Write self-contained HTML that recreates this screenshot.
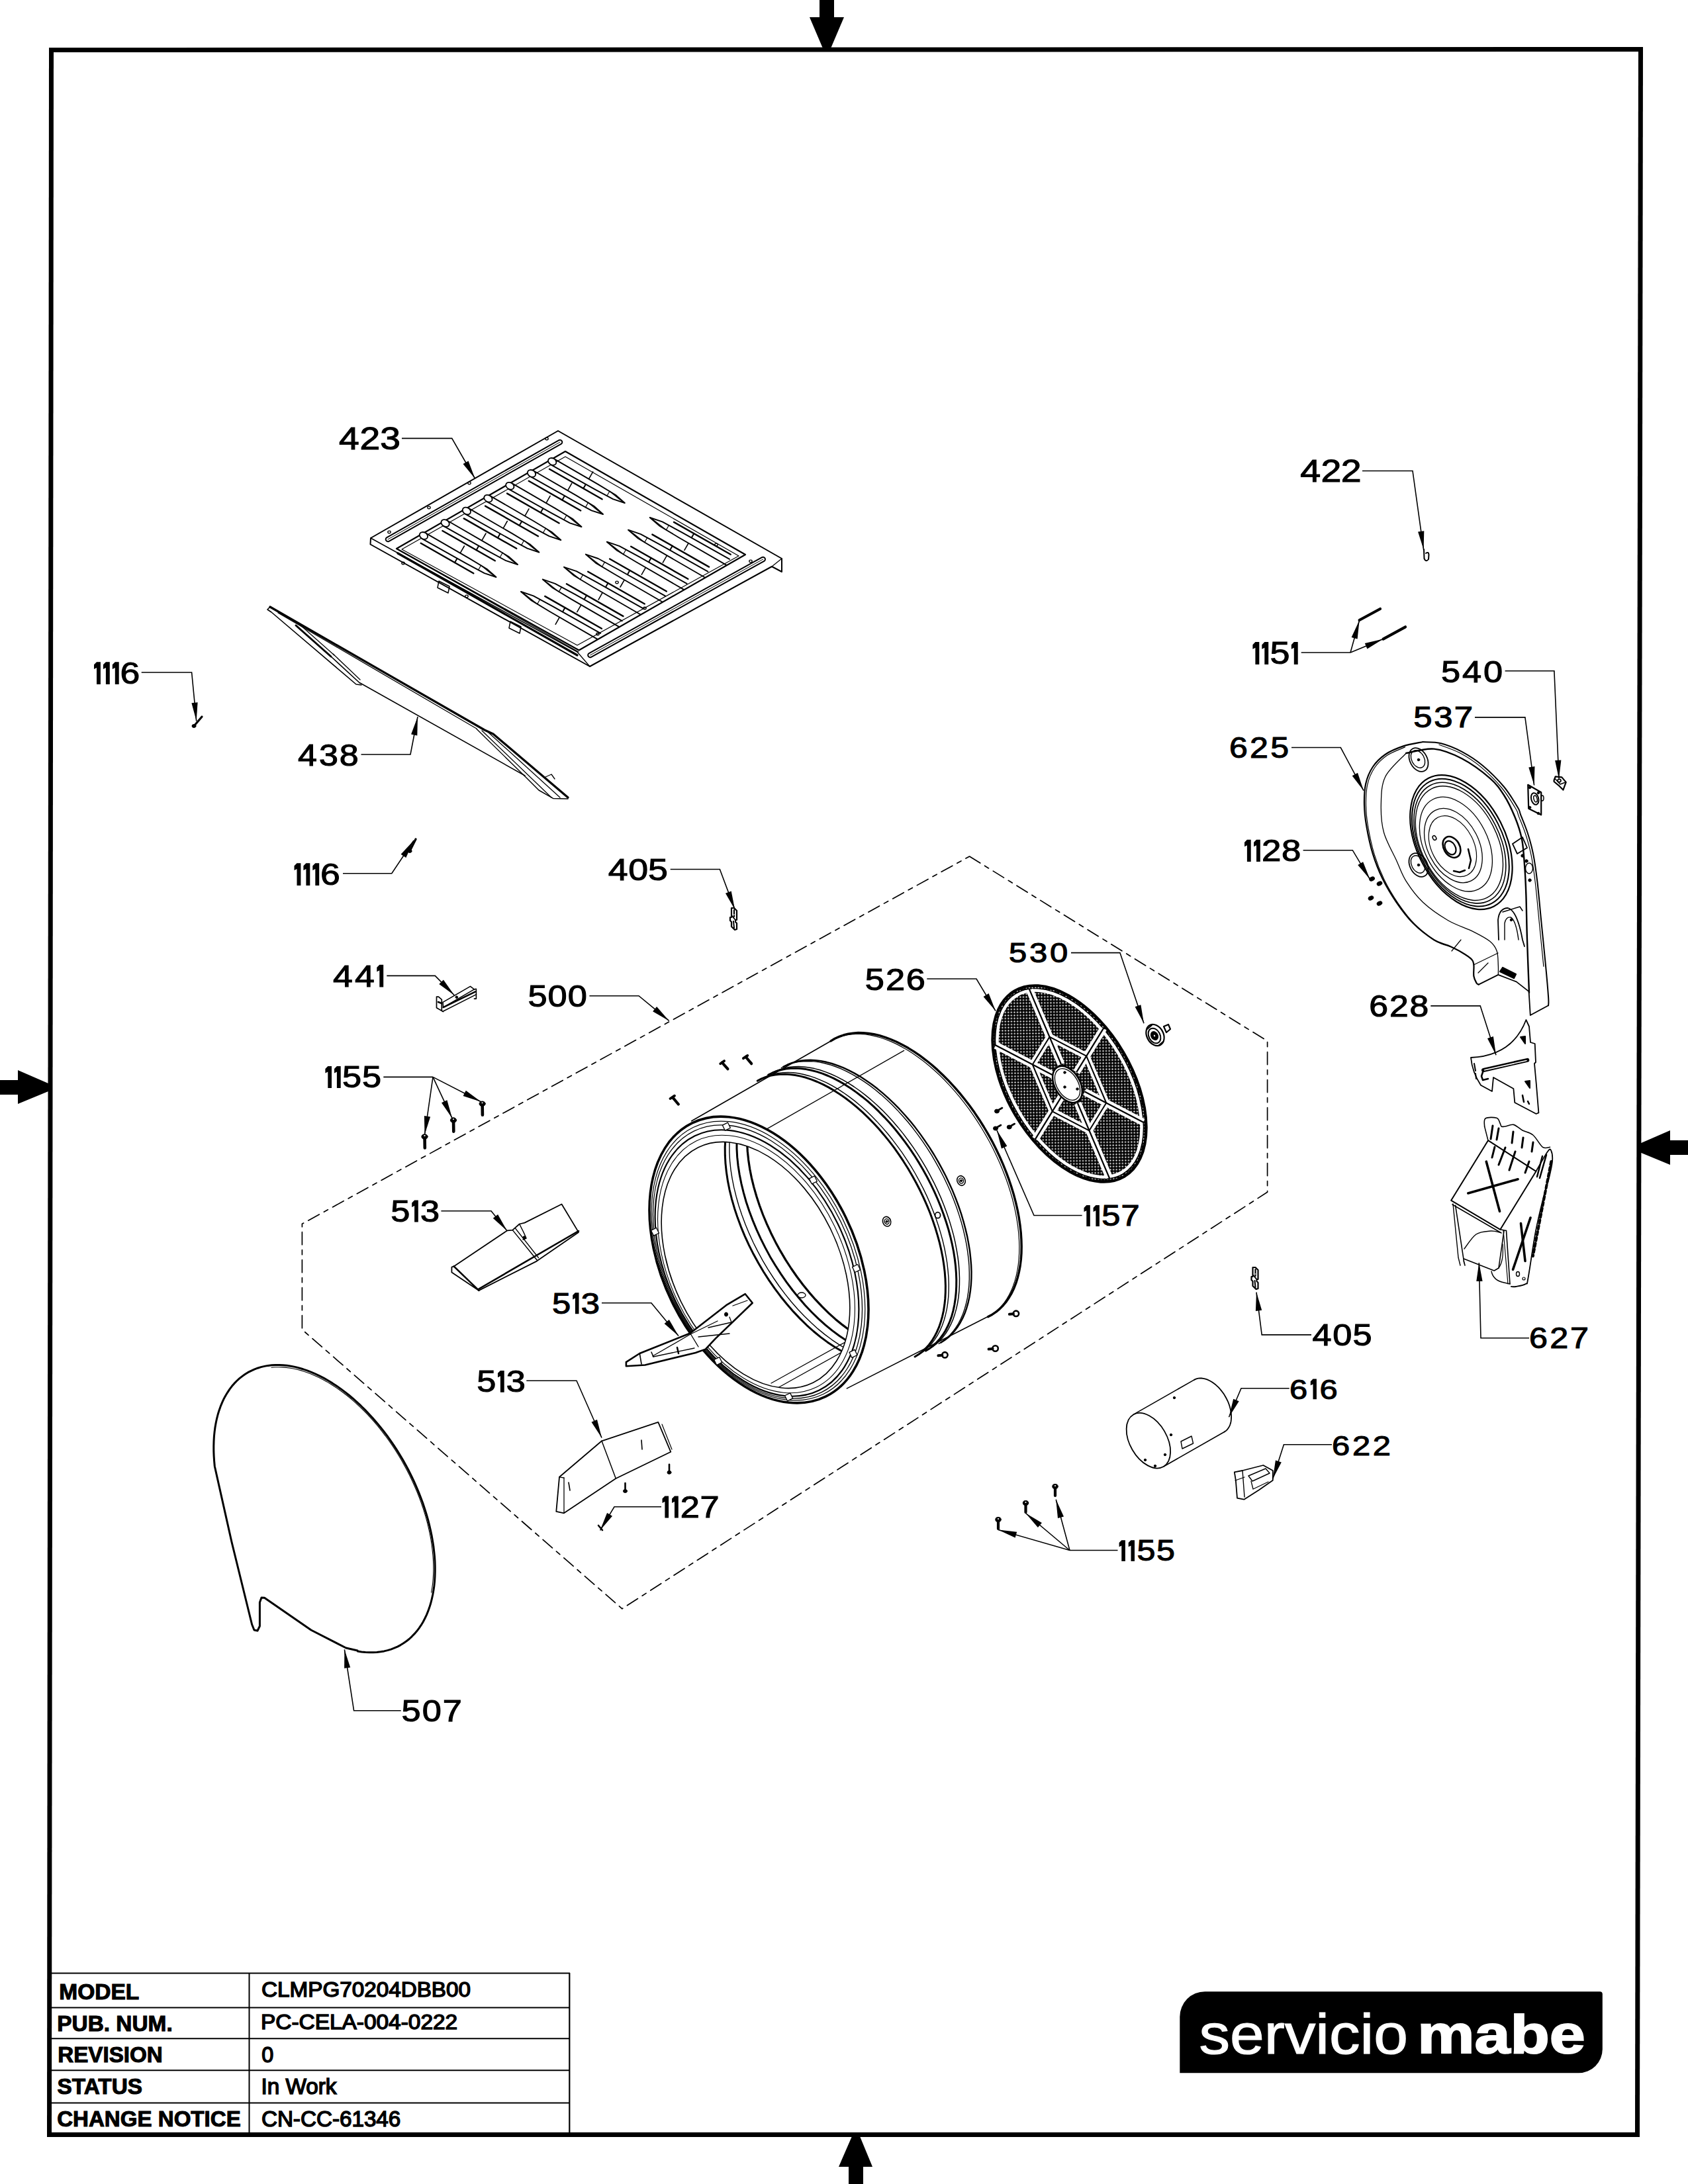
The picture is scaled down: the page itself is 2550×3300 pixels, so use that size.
<!DOCTYPE html><html><head><meta charset="utf-8"><title>Parts diagram</title><style>html,body{margin:0;padding:0;background:#fff;}svg{display:block;}text{font-family:"Liberation Sans",sans-serif;}</style></head><body>
<svg width="2550" height="3300" viewBox="0 0 2550 3300">
<rect width="2550" height="3300" fill="#fff"/>
<g stroke="#000" fill="none" stroke-linecap="round" stroke-linejoin="round">
<polyline points="843,651 1181,844 1181,864 1166,856 891,1007 559.5,822.5 560,813 843,651" fill="none" stroke-width="2"/>
<line x1="560" y1="813" x2="872" y2="985" stroke-width="1.5"/>
<line x1="1166" y1="856" x2="1181" y2="844" stroke-width="1.3"/>
<line x1="872" y1="985" x2="891" y2="1007" stroke-width="1.3"/>
<polygon points="854,682 1126,838 874.6,982.5 599,829" fill="none" stroke-width="2.2"/>
<polygon points="854,690 1116,840 872,975 607,830" fill="none" stroke-width="1.2"/>
<line x1="586" y1="815" x2="846" y2="668" stroke-width="8.5"/>
<line x1="586" y1="815" x2="846" y2="668" stroke-width="4.5" stroke="#fff"/>
<line x1="586" y1="815" x2="846" y2="668" stroke-width="1.0"/>
<line x1="891.5" y1="990" x2="1152.7" y2="845" stroke-width="8.5"/>
<line x1="891.5" y1="990" x2="1152.7" y2="845" stroke-width="4.5" stroke="#fff"/>
<line x1="891.5" y1="990" x2="1152.7" y2="845" stroke-width="1.0"/>
<line x1="601" y1="836" x2="872" y2="990" stroke-width="3.2"/>
<line x1="606" y1="833" x2="874" y2="985" stroke-width="1.2"/>
<ellipse cx="588" cy="804" rx="2.2" ry="1.8" fill="none" stroke-width="1.3"/>
<ellipse cx="648" cy="767" rx="2.2" ry="1.8" fill="none" stroke-width="1.3"/>
<ellipse cx="709" cy="730" rx="2.2" ry="1.8" fill="none" stroke-width="1.3"/>
<ellipse cx="826" cy="663" rx="2.2" ry="1.8" fill="none" stroke-width="1.3"/>
<ellipse cx="1082" cy="823" rx="2.2" ry="1.8" fill="none" stroke-width="1.3"/>
<ellipse cx="1134" cy="848" rx="2.2" ry="1.8" fill="none" stroke-width="1.3"/>
<ellipse cx="974" cy="919" rx="2.2" ry="1.8" fill="none" stroke-width="1.3"/>
<ellipse cx="903" cy="958" rx="2.2" ry="1.8" fill="none" stroke-width="1.3"/>
<ellipse cx="609" cy="851" rx="2.2" ry="1.8" fill="none" stroke-width="1.3"/>
<ellipse cx="705" cy="901" rx="2.2" ry="1.8" fill="none" stroke-width="1.3"/>
<ellipse cx="932" cy="880" rx="2.2" ry="1.8" fill="none" stroke-width="1.3"/>
<polyline points="831.7,701.8 898.6,739.4 926.1,754.2 943.8,760 929.8,747.7 903.1,731.6 836.7,693.1" fill="none" stroke-width="1.9"/>
<ellipse cx="834.2" cy="697.4" rx="6.5" ry="5" fill="#fff" stroke-width="1.8" transform="rotate(29.7 834.2 697.4)"/>
<polyline points="920.9,742.3 935.6,754.2 943.8,760" fill="none" stroke-width="1.2"/>
<line x1="916.9" y1="749.3" x2="920.9" y2="742.3" stroke-width="1.2"/>
<line x1="830" y1="708.8" x2="909.6" y2="754.3" stroke-width="2.4"/>
<line x1="884.8" y1="732.1" x2="881.3" y2="738.1" stroke-width="2.0"/>
<line x1="889.7" y1="723.4" x2="895.7" y2="712.9" stroke-width="1.6"/>
<polyline points="800.6,719.7 866.4,756.7 893.5,771.3 911,777 897.3,764.8 870.9,748.9 805.5,711" fill="none" stroke-width="1.9"/>
<ellipse cx="803" cy="715.4" rx="6.5" ry="5" fill="#fff" stroke-width="1.8" transform="rotate(29.7 803 715.4)"/>
<polyline points="888.5,759.5 902.8,771.2 911,777" fill="none" stroke-width="1.2"/>
<line x1="884.5" y1="766.5" x2="888.5" y2="759.5" stroke-width="1.2"/>
<line x1="798.8" y1="726.8" x2="877.2" y2="771.5" stroke-width="2.4"/>
<line x1="852.8" y1="749.5" x2="849.3" y2="755.6" stroke-width="2.0"/>
<line x1="857.8" y1="740.8" x2="863.7" y2="730.4" stroke-width="1.6"/>
<polyline points="767.8,738.6 833.8,775.7 861,790.3 878.5,796 864.7,783.8 838.3,767.9 772.8,729.9" fill="none" stroke-width="1.9"/>
<ellipse cx="770.3" cy="734.2" rx="6.5" ry="5" fill="#fff" stroke-width="1.8" transform="rotate(29.7 770.3 734.2)"/>
<polyline points="855.9,778.5 870.3,790.2 878.5,796" fill="none" stroke-width="1.2"/>
<line x1="852" y1="785.4" x2="855.9" y2="778.5" stroke-width="1.2"/>
<line x1="766.1" y1="745.6" x2="844.6" y2="790.5" stroke-width="2.4"/>
<line x1="820.2" y1="768.5" x2="816.7" y2="774.5" stroke-width="2.0"/>
<line x1="825.2" y1="759.8" x2="831.1" y2="749.4" stroke-width="1.6"/>
<polyline points="734.9,757.6 802,795.3 829.6,810.2 847.3,816 833.3,803.7 806.4,787.5 739.8,748.9" fill="none" stroke-width="1.9"/>
<ellipse cx="737.4" cy="753.2" rx="6.5" ry="5" fill="#fff" stroke-width="1.8" transform="rotate(29.7 737.4 753.2)"/>
<polyline points="824.3,798.3 839.1,810.2 847.3,816" fill="none" stroke-width="1.2"/>
<line x1="820.4" y1="805.2" x2="824.3" y2="798.3" stroke-width="1.2"/>
<line x1="733.1" y1="764.6" x2="813" y2="810.2" stroke-width="2.4"/>
<line x1="788.1" y1="788" x2="784.6" y2="794" stroke-width="2.0"/>
<line x1="793.1" y1="779.3" x2="799" y2="768.9" stroke-width="1.6"/>
<polyline points="702.4,776.3 769.2,813.9 796.7,828.7 814.4,834.5 800.4,822.2 773.7,806.1 707.3,767.6" fill="none" stroke-width="1.9"/>
<ellipse cx="704.9" cy="772" rx="6.5" ry="5" fill="#fff" stroke-width="1.8" transform="rotate(29.7 704.9 772)"/>
<polyline points="791.5,816.8 806.2,828.7 814.4,834.5" fill="none" stroke-width="1.2"/>
<line x1="787.6" y1="823.8" x2="791.5" y2="816.8" stroke-width="1.2"/>
<line x1="700.7" y1="783.4" x2="780.2" y2="828.8" stroke-width="2.4"/>
<line x1="755.4" y1="806.6" x2="751.9" y2="812.7" stroke-width="2.0"/>
<line x1="760.4" y1="797.9" x2="766.3" y2="787.5" stroke-width="1.6"/>
<polyline points="670.1,794.9 736.9,832.4 764.3,847.2 782,853 768.1,840.7 741.3,824.6 675.1,786.2" fill="none" stroke-width="1.9"/>
<ellipse cx="672.6" cy="790.5" rx="6.5" ry="5" fill="#fff" stroke-width="1.8" transform="rotate(29.7 672.6 790.5)"/>
<polyline points="759.2,835.3 773.8,847.2 782,853" fill="none" stroke-width="1.2"/>
<line x1="755.2" y1="842.3" x2="759.2" y2="835.3" stroke-width="1.2"/>
<line x1="668.4" y1="802" x2="747.8" y2="847.3" stroke-width="2.4"/>
<line x1="723.1" y1="825.1" x2="719.6" y2="831.2" stroke-width="2.0"/>
<line x1="728.1" y1="816.4" x2="734" y2="806" stroke-width="1.6"/>
<polyline points="637.4,813.8 704.3,851.4 731.8,866.2 749.5,872 735.5,859.7 708.8,843.6 642.4,805.1" fill="none" stroke-width="1.9"/>
<ellipse cx="639.9" cy="809.4" rx="6.5" ry="5" fill="#fff" stroke-width="1.8" transform="rotate(29.7 639.9 809.4)"/>
<polyline points="726.6,854.3 741.3,866.2 749.5,872" fill="none" stroke-width="1.2"/>
<line x1="722.6" y1="861.3" x2="726.6" y2="854.3" stroke-width="1.2"/>
<line x1="635.7" y1="820.8" x2="715.3" y2="866.3" stroke-width="2.4"/>
<line x1="690.5" y1="844.1" x2="687" y2="850.1" stroke-width="2.0"/>
<line x1="695.4" y1="835.4" x2="701.4" y2="825" stroke-width="1.6"/>
<polyline points="1102,844.9 1030,804.4 1000.5,788.4 981.7,782 996.8,795 1025.5,812.2 1097,853.6" fill="none" stroke-width="1.9"/>
<polyline points="1006.4,800.7 989.9,787.8 981.7,782" fill="none" stroke-width="1.2"/>
<line x1="1010.4" y1="793.8" x2="1006.4" y2="800.7" stroke-width="1.2"/>
<line x1="1103.7" y1="837.8" x2="1018" y2="788.9" stroke-width="2.4"/>
<line x1="1044.8" y1="812.3" x2="1048.3" y2="806.2" stroke-width="2.0"/>
<line x1="1039.9" y1="821" x2="1033.9" y2="831.4" stroke-width="1.6"/>
<polyline points="1069.4,863.6 997.4,823.1 967.9,807.1 949.1,800.7 964.2,813.7 993,830.9 1064.4,872.3" fill="none" stroke-width="1.9"/>
<polyline points="973.8,819.4 957.3,806.5 949.1,800.7" fill="none" stroke-width="1.2"/>
<line x1="977.8" y1="812.5" x2="973.8" y2="819.4" stroke-width="1.2"/>
<line x1="1071.1" y1="856.6" x2="985.4" y2="807.6" stroke-width="2.4"/>
<line x1="1012.2" y1="831" x2="1015.7" y2="824.9" stroke-width="2.0"/>
<line x1="1007.3" y1="839.7" x2="1001.3" y2="850.1" stroke-width="1.6"/>
<polyline points="1037.6,881.9 965.3,841.2 935.7,825.2 916.8,818.7 932,831.7 960.8,849 1032.6,890.6" fill="none" stroke-width="1.9"/>
<polyline points="941.6,837.5 925,824.5 916.8,818.7" fill="none" stroke-width="1.2"/>
<line x1="945.6" y1="830.5" x2="941.6" y2="837.5" stroke-width="1.2"/>
<line x1="1039.3" y1="874.8" x2="953.2" y2="825.7" stroke-width="2.4"/>
<line x1="980.2" y1="849.1" x2="983.6" y2="843.1" stroke-width="2.0"/>
<line x1="975.2" y1="857.8" x2="969.3" y2="868.2" stroke-width="1.6"/>
<polyline points="1005.2,900.6 933.1,860 903.6,844 884.8,837.6 899.9,850.6 928.7,867.8 1000.2,909.2" fill="none" stroke-width="1.9"/>
<polyline points="909.5,856.3 893,843.4 884.8,837.6" fill="none" stroke-width="1.2"/>
<line x1="913.5" y1="849.4" x2="909.5" y2="856.3" stroke-width="1.2"/>
<line x1="1006.9" y1="893.5" x2="921.1" y2="844.5" stroke-width="2.4"/>
<line x1="948" y1="867.9" x2="951.4" y2="861.8" stroke-width="2.0"/>
<line x1="943" y1="876.6" x2="937" y2="887" stroke-width="1.6"/>
<polyline points="972,919.6 900.2,879.2 870.8,863.2 852,856.8 867.1,869.7 895.8,887 967.1,928.3" fill="none" stroke-width="1.9"/>
<polyline points="876.6,875.5 860.2,862.6 852,856.8" fill="none" stroke-width="1.2"/>
<line x1="880.6" y1="868.5" x2="876.6" y2="875.5" stroke-width="1.2"/>
<line x1="973.8" y1="912.5" x2="888.2" y2="863.7" stroke-width="2.4"/>
<line x1="915" y1="887" x2="918.5" y2="880.9" stroke-width="2.0"/>
<line x1="910" y1="895.7" x2="904.1" y2="906.1" stroke-width="1.6"/>
<polyline points="939.7,938.2 867.9,897.7 838.5,881.8 819.7,875.4 834.8,888.3 863.5,905.6 934.8,946.9" fill="none" stroke-width="1.9"/>
<polyline points="844.3,894.1 827.9,881.2 819.7,875.4" fill="none" stroke-width="1.2"/>
<line x1="848.3" y1="887.1" x2="844.3" y2="894.1" stroke-width="1.2"/>
<line x1="941.5" y1="931.1" x2="855.9" y2="882.3" stroke-width="2.4"/>
<line x1="882.7" y1="905.6" x2="886.2" y2="899.5" stroke-width="2.0"/>
<line x1="877.7" y1="914.3" x2="871.8" y2="924.7" stroke-width="1.6"/>
<polyline points="907.2,956.9 835.3,916.4 805.8,900.4 787,894 802.1,906.9 830.8,924.2 902.2,965.6" fill="none" stroke-width="1.9"/>
<polyline points="811.7,912.7 795.2,899.8 787,894" fill="none" stroke-width="1.2"/>
<line x1="815.6" y1="905.7" x2="811.7" y2="912.7" stroke-width="1.2"/>
<line x1="908.9" y1="949.8" x2="823.2" y2="900.9" stroke-width="2.4"/>
<line x1="850.1" y1="924.3" x2="853.5" y2="918.2" stroke-width="2.0"/>
<line x1="845.1" y1="932.9" x2="839.2" y2="943.4" stroke-width="1.6"/>
<polygon points="663,878 679,886 677,896 661,888" fill="none" stroke-width="1.5"/>
<polygon points="771,939 787,947 785,957 769,949" fill="none" stroke-width="1.5"/>
<polyline points="408,917 732,1103 745,1109 858,1205" fill="none" stroke-width="3.2"/>
<polyline points="420,926 720,1101" fill="none" stroke-width="1.3"/>
<polyline points="408,917 404,921 410,925 538,1034 546,1035" fill="none" stroke-width="1.6"/>
<line x1="447" y1="945" x2="500" y2="992" stroke-width="3.0"/>
<line x1="500" y1="992" x2="544" y2="1032.5" stroke-width="1.6"/>
<line x1="503" y1="988" x2="544" y2="1027" stroke-width="1.3"/>
<line x1="452" y1="943" x2="505" y2="990" stroke-width="1.2"/>
<line x1="544" y1="1032" x2="793" y2="1172" stroke-width="1.5"/>
<line x1="720" y1="1101.6" x2="792.5" y2="1172.5" stroke-width="1.4"/>
<polyline points="792.5,1172.5 814,1194 835.6,1206.4 858,1207" fill="none" stroke-width="1.5"/>
<line x1="728" y1="1104" x2="833" y2="1205" stroke-width="1.3"/>
<line x1="737" y1="1106" x2="846" y2="1205" stroke-width="1.3"/>
<polyline points="824,1174 833,1170 838,1177" fill="none" stroke-width="1.3"/>
<line x1="293" y1="1097" x2="305" y2="1083" stroke-width="3.2"/>
<ellipse cx="293" cy="1097" rx="3" ry="2.4" fill="#000" stroke-width="1"/>
<line x1="619" y1="1286" x2="628" y2="1268" stroke-width="3.2"/>
<ellipse cx="619" cy="1286" rx="3" ry="2.4" fill="#000" stroke-width="1"/>
<path d="M2151,830 L2151.5,844 Q2154,850 2158,845 L2158.5,838 Q2158,833 2154,836" fill="none" stroke-width="2"/>
<line x1="2053.6" y1="937" x2="2085" y2="920" stroke-width="4.2"/>
<line x1="2089.5" y1="965.6" x2="2123" y2="947.3" stroke-width="4.2"/>
<polygon points="2347.6,1179 2349.7,1173.3 2359.3,1174.4 2365.7,1181.9 2361.4,1193.6 2355.6,1187.7 2347.6,1181" fill="none" stroke-width="2.2"/>
<polyline points="2349.5,1177 2357,1185 2365,1182" fill="none" stroke-width="1.6"/>
<ellipse cx="2355.5" cy="1179.5" rx="2.5" ry="2.2" fill="none" stroke-width="1.8"/>
<polygon points="2308.2,1185.8 2328.2,1197.2 2328.2,1231.3 2309.2,1221.8" fill="none" stroke-width="2.2"/>
<ellipse cx="2318.7" cy="1207" rx="5.5" ry="9" fill="none" stroke-width="2" transform="rotate(-15 2318.7 1207)"/>
<ellipse cx="2319.5" cy="1207" rx="2.5" ry="5" fill="none" stroke-width="1.5" transform="rotate(-15 2319.5 1207)"/>
<ellipse cx="2330" cy="1206" rx="2" ry="4" fill="none" stroke-width="1.5"/>
<ellipse cx="2311" cy="1190" rx="1.8" ry="1.8" fill="#000" stroke-width="1"/>
<ellipse cx="2311" cy="1220" rx="1.8" ry="1.8" fill="#000" stroke-width="1"/>
<ellipse cx="2324" cy="1198" rx="1.8" ry="1.8" fill="#000" stroke-width="1"/>
<ellipse cx="2324" cy="1229" rx="1.8" ry="1.8" fill="#000" stroke-width="1"/>
<ellipse cx="2072.6" cy="1328" rx="4" ry="2.8" fill="#000" stroke-width="1" transform="rotate(-25 2072.6 1328)"/>
<ellipse cx="2084" cy="1335" rx="4" ry="2.8" fill="#000" stroke-width="1" transform="rotate(-25 2084 1335)"/>
<ellipse cx="2071" cy="1357" rx="4" ry="2.8" fill="#000" stroke-width="1" transform="rotate(-25 2071 1357)"/>
<ellipse cx="2084" cy="1365" rx="4" ry="2.8" fill="#000" stroke-width="1" transform="rotate(-25 2084 1365)"/>
<polygon points="1105,1372 1109,1372 1113,1376 1113,1390 1111,1390 1111,1393 1113,1395 1113,1404 1110,1405 1105,1400 1105,1393 1103,1391 1103,1386 1105,1386" fill="none" stroke-width="2.2"/>
<line x1="1109" y1="1375" x2="1109" y2="1385" stroke-width="2.2"/>
<line x1="1106" y1="1384" x2="1110" y2="1389" stroke-width="2"/>
<line x1="1108" y1="1392" x2="1109" y2="1402" stroke-width="2"/>
<ellipse cx="1109" cy="1382" rx="0.8" ry="0.8" fill="#fff" stroke-width="0.1" stroke="none"/>
<polygon points="1892.5,1915 1896.5,1915 1900.5,1919 1900.5,1933 1898.5,1933 1898.5,1936 1900.5,1938 1900.5,1947 1897.5,1948 1892.5,1943 1892.5,1936 1890.5,1934 1890.5,1929 1892.5,1929" fill="none" stroke-width="2.2"/>
<line x1="1896.5" y1="1918" x2="1896.5" y2="1928" stroke-width="2.2"/>
<line x1="1893.5" y1="1927" x2="1897.5" y2="1932" stroke-width="2"/>
<line x1="1895.5" y1="1935" x2="1896.5" y2="1945" stroke-width="2"/>
<ellipse cx="1896.5" cy="1925" rx="0.8" ry="0.8" fill="#fff" stroke-width="0.1" stroke="none"/>
<polyline points="659.5,1506.1 662.5,1506.1 667.3,1510.3 667.3,1526.9 669.3,1528.6 659.5,1522.7 659.5,1506.1" fill="none" stroke-width="1.7"/>
<polyline points="669,1514.4 710.5,1490.4 716.4,1494.9 669.6,1522.1 669,1514.4" fill="none" stroke-width="1.6"/>
<line x1="669.6" y1="1522.1" x2="718.2" y2="1498.4" stroke-width="2.4"/>
<line x1="669.5" y1="1528" x2="719.4" y2="1502.6" stroke-width="1.6"/>
<polyline points="716.4,1494.9 719.4,1494.3 719.4,1509.1 716.4,1509.1" fill="none" stroke-width="1.6"/>
<line x1="662" y1="1514" x2="667" y2="1516" stroke-width="2.5"/>
<ellipse cx="689.8" cy="1506.7" rx="1.8" ry="1.8" fill="#000" stroke-width="1"/>
<polygon points="1464.6,1294 1914.6,1573 1914.6,1801.3 939.8,2430.8 456.4,2009 456.4,1849.3" fill="none" stroke-width="1.7" stroke-dasharray="19 8 7 8"/>
<line x1="1044.8" y1="1693.8" x2="1262" y2="1569" stroke-width="1.6"/>
<line x1="1150" y1="1710.6" x2="1365.6" y2="1587.4" stroke-width="1.3"/>
<line x1="1279.4" y1="2097.9" x2="1497" y2="1987" stroke-width="1.6"/>
<polyline points="1144.3,1633.1 1150.5,1629.9 1157,1627.4 1163.7,1625.4 1170.8,1624 1178,1623.3 1185.6,1623.1 1193.3,1623.5 1201.2,1624.5 1209.3,1626.1 1217.6,1628.3 1225.9,1631.1 1234.4,1634.5 1243,1638.4 1251.6,1642.9 1260.2,1647.9 1268.9,1653.5 1277.5,1659.5 1286.1,1666.1 1294.6,1673.2 1303.1,1680.7 1311.4,1688.6 1319.6,1697 1327.7,1705.8 1335.5,1714.9 1343.2,1724.4 1350.7,1734.2 1357.9,1744.3 1364.8,1754.7 1371.5,1765.3 1377.9,1776.2 1384,1787.2 1389.7,1798.3 1395.1,1809.6 1400.1,1820.9 1404.8,1832.3 1409,1843.8 1412.9,1855.2 1416.3,1866.6 1419.4,1877.9 1422,1889.2 1424.2,1900.2 1425.9,1911.2 1427.2,1921.9 1428,1932.4 1428.4,1942.7 1428.3,1952.7 1427.8,1962.4 1426.8,1971.8 1425.4,1980.8 1423.5,1989.4 1421.2,1997.6 1418.5,2005.4 1415.3,2012.7 1411.7,2019.6 1407.8,2026 1403.4,2031.9 1398.6,2037.2 1393.5,2042.1 1388,2046.3 1382.1,2050" fill="none" stroke-width="3.0"/>
<polyline points="1149.2,1630.4 1155.4,1627.3 1161.8,1624.7 1168.6,1622.8 1175.6,1621.4 1182.9,1620.6 1190.5,1620.4 1198.2,1620.8 1206.1,1621.8 1214.2,1623.5 1222.5,1625.7 1230.8,1628.4 1239.3,1631.8 1247.9,1635.7 1256.5,1640.2 1265.1,1645.2 1273.8,1650.8 1282.4,1656.9 1291,1663.4 1299.5,1670.5 1308,1678 1316.3,1686 1324.5,1694.4 1332.5,1703.1 1340.4,1712.3 1348.1,1721.8 1355.5,1731.6 1362.8,1741.7 1369.7,1752.1 1376.4,1762.7 1382.8,1773.5 1388.8,1784.5 1394.6,1795.6 1400,1806.9 1405,1818.3 1409.6,1829.7 1413.9,1841.1 1417.8,1852.5 1421.2,1863.9 1424.3,1875.3 1426.9,1886.5 1429,1897.6 1430.8,1908.5 1432,1919.3 1432.9,1929.8 1433.3,1940.1 1433.2,1950.1 1432.7,1959.7 1431.7,1969.1 1430.3,1978.1 1428.4,1986.7 1426.1,1995 1423.4,2002.7 1420.2,2010.1 1416.6,2017 1412.6,2023.3 1408.3,2029.2 1403.5,2034.6 1398.4,2039.4 1392.9,2043.7 1387,2047.4" fill="none" stroke-width="1.4"/>
<polyline points="1160.7,1624.1 1166.9,1621 1173.4,1618.4 1180.1,1616.5 1187.2,1615.1 1194.5,1614.3 1202,1614.1 1209.7,1614.5 1217.7,1615.6 1225.8,1617.2 1234,1619.4 1242.4,1622.1 1250.8,1625.5 1259.4,1629.4 1268,1633.9 1276.6,1638.9 1285.3,1644.5 1293.9,1650.6 1302.5,1657.2 1311.1,1664.2 1319.5,1671.7 1327.8,1679.7 1336,1688.1 1344.1,1696.8 1352,1706 1359.6,1715.5 1367.1,1725.3 1374.3,1735.4 1381.3,1745.8 1387.9,1756.4 1394.3,1767.2 1400.4,1778.2 1406.1,1789.4 1411.5,1800.6 1416.5,1812 1421.2,1823.4 1425.4,1834.8 1429.3,1846.3 1432.8,1857.6 1435.8,1869 1438.4,1880.2 1440.6,1891.3 1442.3,1902.2 1443.6,1913 1444.4,1923.5 1444.8,1933.8 1444.7,1943.8 1444.2,1953.5 1443.2,1962.8 1441.8,1971.8 1440,1980.4 1437.7,1988.7 1434.9,1996.5 1431.8,2003.8 1428.2,2010.7 1424.2,2017 1419.8,2022.9 1415,2028.3 1409.9,2033.1 1404.4,2037.4 1398.6,2041.1" fill="none" stroke-width="3.0"/>
<polyline points="1165.4,1621.6 1171.6,1618.5 1178,1615.9 1184.8,1613.9 1191.8,1612.5 1199.1,1611.8 1206.7,1611.6 1214.4,1612 1222.3,1613 1230.4,1614.6 1238.7,1616.8 1247,1619.6 1255.5,1623 1264.1,1626.9 1272.7,1631.4 1281.3,1636.4 1290,1642 1298.6,1648 1307.2,1654.6 1315.7,1661.7 1324.2,1669.2 1332.5,1677.1 1340.7,1685.5 1348.7,1694.3 1356.6,1703.4 1364.3,1712.9 1371.7,1722.7 1379,1732.9 1385.9,1743.2 1392.6,1753.8 1399,1764.7 1405,1775.7 1410.8,1786.8 1416.2,1798.1 1421.2,1809.4 1425.8,1820.8 1430.1,1832.3 1434,1843.7 1437.4,1855.1 1440.5,1866.4 1443.1,1877.7 1445.2,1888.8 1447,1899.7 1448.3,1910.4 1449.1,1921 1449.5,1931.2 1449.4,1941.2 1448.9,1950.9 1447.9,1960.3 1446.5,1969.3 1444.6,1977.9 1442.3,1986.1 1439.6,1993.9 1436.4,2001.2 1432.8,2008.1 1428.9,2014.5 1424.5,2020.4 1419.7,2025.7 1414.6,2030.6 1409.1,2034.8 1403.2,2038.5" fill="none" stroke-width="1.5"/>
<polyline points="1180.3,1613.5 1186.4,1610.3 1192.9,1607.8 1199.7,1605.8 1206.7,1604.4 1214,1603.7 1221.5,1603.5 1229.3,1603.9 1237.2,1604.9 1245.3,1606.5 1253.5,1608.7 1261.9,1611.5 1270.4,1614.9 1278.9,1618.8 1287.5,1623.3 1296.2,1628.3 1304.8,1633.9 1313.5,1639.9 1322.1,1646.5 1330.6,1653.6 1339,1661.1 1347.4,1669 1355.6,1677.4 1363.6,1686.2 1371.5,1695.3 1379.2,1704.8 1386.6,1714.6 1393.8,1724.7 1400.8,1735.1 1407.5,1745.7 1413.8,1756.6 1419.9,1767.6 1425.7,1778.7 1431,1790 1436.1,1801.3 1440.7,1812.7 1445,1824.2 1448.8,1835.6 1452.3,1847 1455.3,1858.3 1457.9,1869.6 1460.1,1880.6 1461.8,1891.6 1463.1,1902.3 1464,1912.8 1464.3,1923.1 1464.3,1933.1 1463.8,1942.8 1462.8,1952.2 1461.4,1961.2 1459.5,1969.8 1457.2,1978 1454.5,1985.8 1451.3,1993.1 1447.7,2000 1443.7,2006.4 1439.3,2012.3 1434.6,2017.6 1429.4,2022.4 1423.9,2026.7 1418.1,2030.4" fill="none" stroke-width="1.4"/>
<polyline points="1183.4,1611.8 1189.6,1608.7 1196,1606.1 1202.8,1604.1 1209.8,1602.7 1217.1,1602 1224.6,1601.8 1232.4,1602.2 1240.3,1603.2 1248.4,1604.8 1256.6,1607 1265,1609.8 1273.5,1613.2 1282,1617.1 1290.7,1621.6 1299.3,1626.6 1307.9,1632.2 1316.6,1638.2 1325.2,1644.8 1333.7,1651.9 1342.1,1659.4 1350.5,1667.3 1358.7,1675.7 1366.7,1684.5 1374.6,1693.6 1382.3,1703.1 1389.7,1712.9 1396.9,1723.1 1403.9,1733.4 1410.6,1744 1417,1754.9 1423,1765.9 1428.8,1777 1434.1,1788.3 1439.2,1799.6 1443.8,1811 1448.1,1822.5 1452,1833.9 1455.4,1845.3 1458.4,1856.6 1461.1,1867.9 1463.2,1879 1465,1889.9 1466.2,1900.6 1467.1,1911.2 1467.5,1921.4 1467.4,1931.4 1466.9,1941.1 1465.9,1950.5 1464.5,1959.5 1462.6,1968.1 1460.3,1976.3 1457.6,1984.1 1454.4,1991.4 1450.8,1998.3 1446.8,2004.7 1442.4,2010.6 1437.7,2015.9 1432.5,2020.8 1427,2025 1421.2,2028.7" fill="none" stroke-width="2.4"/>
<polyline points="1255.2,1572.9 1261.2,1569.3 1267.7,1566.4 1274.4,1564 1281.4,1562.2 1288.7,1561.1 1296.3,1560.5 1304.1,1560.7 1312.1,1561.4 1320.3,1562.7 1328.7,1564.7 1337.2,1567.3 1345.8,1570.5 1354.5,1574.3 1363.3,1578.7 1372.1,1583.6 1381,1589.1 1389.8,1595.2 1398.6,1601.8 1407.3,1608.8 1416,1616.4 1424.5,1624.5 1432.9,1632.9 1441.2,1641.8 1449.3,1651.1 1457.1,1660.8 1464.8,1670.8 1472.2,1681.1 1479.3,1691.7 1486.1,1702.5 1492.7,1713.6 1498.9,1724.8 1504.7,1736.2 1510.2,1747.8 1515.3,1759.4 1520,1771.1 1524.3,1782.7 1528.2,1794.4 1531.7,1806.1 1534.7,1817.6 1537.3,1829.1 1539.4,1840.4 1541,1851.5 1542.2,1862.4 1542.9,1873.1 1543.2,1883.5 1543,1893.6 1542.3,1903.4 1541.1,1912.9 1539.4,1921.9 1537.3,1930.5 1534.8,1938.7 1531.8,1946.5 1528.3,1953.8 1524.4,1960.5 1520.1,1966.8 1515.4,1972.5 1510.3,1977.6 1504.9,1982.2 1499,1986.2 1492.8,1989.6" fill="none" stroke-width="3.4"/>
<polyline points="1266.2,1567.4 1272.5,1565.4 1279,1563.8 1285.8,1562.8 1292.8,1562.4 1300,1562.4 1307.4,1563 1314.9,1564.2 1322.6,1565.8 1330.4,1568 1338.3,1570.7 1346.3,1573.9 1354.4,1577.6 1362.5,1581.9 1370.7,1586.6 1378.9,1591.8 1387,1597.4 1395.2,1603.5 1403.2,1610 1411.2,1617 1419.2,1624.3 1427,1632 1434.6,1640.1 1442.2,1648.6 1449.6,1657.3 1456.7,1666.4 1463.7,1675.7 1470.5,1685.3 1477,1695.1 1483.3,1705.2 1489.3,1715.4 1495.1,1725.8 1500.5,1736.3 1505.6,1746.9 1510.5,1757.7 1514.9,1768.4 1519.1,1779.2 1522.9,1790 1526.3,1800.8 1529.4,1811.5 1532,1822.2 1534.3,1832.7 1536.2,1843.2 1537.7,1853.4 1538.8,1863.5 1539.5,1873.4 1539.8,1883.1 1539.7,1892.5 1539.2,1901.7 1538.3,1910.5 1537,1919.1 1535.3,1927.2 1533.2,1935.1 1530.7,1942.5 1527.9,1949.6 1524.6,1956.3 1521,1962.5 1517.1,1968.3 1512.7,1973.6 1508.1,1978.4 1503.1,1982.8" fill="none" stroke-width="1.2"/>
<ellipse cx="1339.6" cy="1845.7" rx="6" ry="7.5" fill="none" stroke-width="1.6" transform="rotate(-20 1339.6 1845.7)"/>
<ellipse cx="1339.6" cy="1845.7" rx="3.4" ry="4.1" fill="none" stroke-width="1.4" transform="rotate(-20 1339.6 1845.7)"/>
<ellipse cx="1339.6" cy="1845.7" rx="1.6" ry="1.6" fill="#000" stroke-width="1"/>
<ellipse cx="1452" cy="1784" rx="6" ry="7.5" fill="none" stroke-width="1.6" transform="rotate(-20 1452 1784)"/>
<ellipse cx="1452" cy="1784" rx="3.4" ry="4.1" fill="none" stroke-width="1.4" transform="rotate(-20 1452 1784)"/>
<ellipse cx="1452" cy="1784" rx="1.6" ry="1.6" fill="#000" stroke-width="1"/>
<ellipse cx="1416.6" cy="1836.2" rx="4" ry="4.5" fill="none" stroke-width="1.8"/>
<clipPath id="opening"><ellipse cx="1141.5" cy="1911.5" rx="197.8" ry="125.6" transform="rotate(64.0 1141.5 1911.5)"/></clipPath>
<g clip-path="url(#opening)">
<polyline points="1411.3,2016.7 1406.7,2024.8 1401.5,2032.2 1395.7,2038.8 1389.4,2044.6 1382.5,2049.6 1375.2,2053.8 1367.3,2057 1359.1,2059.4 1350.4,2061 1341.4,2061.6 1332,2061.3 1322.3,2060.2 1312.4,2058.1 1302.3,2055.2 1292,2051.4 1281.5,2046.8 1271,2041.3 1260.5,2035 1249.9,2027.9 1239.4,2020.1 1228.9,2011.5 1218.6,2002.3 1208.5,1992.4 1198.6,1981.9 1188.9,1970.8 1179.5,1959.2 1170.5,1947.1 1161.8,1934.6 1153.5,1921.7 1145.7,1908.5 1138.3,1895.1 1131.4,1881.4 1125.1,1867.6 1119.3,1853.6 1114.1,1839.6 1109.5,1825.7 1105.5,1811.8 1102.1,1798 1099.4,1784.4 1097.4,1771.1 1096,1758.1 1095.3,1745.4 1095.2,1733.1 1095.9,1721.2 1097.2,1709.9 1099.1,1699.1 1101.8,1688.9 1105.1,1679.3 1109,1670.4 1113.5,1662.2 1118.7,1654.7 1124.4,1648 1130.7,1642.1 1137.5,1637.1 1144.8,1632.8 1152.6,1629.5 1160.8,1627 1169.5,1625.4 1178.5,1624.7 1187.8,1624.9" fill="none" stroke-width="3.0"/>
<polyline points="1418,2013 1413.4,2021.2 1408.2,2028.6 1402.4,2035.2 1396.1,2041 1389.2,2046 1381.8,2050.1 1374,2053.4 1365.7,2055.8 1357.1,2057.3 1348,2058 1338.7,2057.7 1329,2056.5 1319.1,2054.5 1308.9,2051.6 1298.6,2047.8 1288.2,2043.1 1277.7,2037.7 1267.1,2031.4 1256.6,2024.3 1246,2016.4 1235.6,2007.9 1225.3,1998.6 1215.2,1988.7 1205.2,1978.2 1195.6,1967.2 1186.2,1955.6 1177.1,1943.5 1168.5,1931 1160.2,1918.1 1152.3,1904.9 1145,1891.4 1138.1,1877.8 1131.8,1863.9 1126,1850 1120.8,1836 1116.1,1822 1112.2,1808.2 1108.8,1794.4 1106.1,1780.8 1104,1767.5 1102.6,1754.4 1101.9,1741.7 1101.9,1729.4 1102.5,1717.6 1103.8,1706.2 1105.8,1695.4 1108.4,1685.2 1111.7,1675.7 1115.7,1666.7 1120.2,1658.5 1125.3,1651.1 1131.1,1644.4 1137.3,1638.5 1144.2,1633.4 1151.5,1629.2 1159.3,1625.9 1167.5,1623.4 1176.1,1621.8 1185.1,1621 1194.5,1621.2" fill="none" stroke-width="1.4"/>
<polyline points="1429.1,2007 1424.5,2015.1 1419.3,2022.5 1413.5,2029.1 1407.2,2034.9 1400.3,2039.9 1392.9,2044.1 1385.1,2047.4 1376.8,2049.8 1368.2,2051.3 1359.1,2051.9 1349.8,2051.7 1340.1,2050.5 1330.2,2048.5 1320,2045.5 1309.7,2041.7 1299.3,2037.1 1288.8,2031.6 1278.2,2025.3 1267.7,2018.2 1257.1,2010.4 1246.7,2001.8 1236.4,1992.6 1226.3,1982.7 1216.3,1972.2 1206.7,1961.1 1197.3,1949.5 1188.2,1937.4 1179.6,1924.9 1171.3,1912 1163.4,1898.9 1156.1,1885.4 1149.2,1871.7 1142.9,1857.9 1137.1,1843.9 1131.9,1830 1127.2,1816 1123.3,1802.1 1119.9,1788.3 1117.2,1774.8 1115.1,1761.4 1113.7,1748.4 1113,1735.7 1113,1723.4 1113.6,1711.5 1114.9,1700.2 1116.9,1689.4 1119.5,1679.2 1122.8,1669.6 1126.8,1660.7 1131.3,1652.5 1136.4,1645 1142.2,1638.3 1148.4,1632.5 1155.3,1627.4 1162.6,1623.2 1170.4,1619.8 1178.6,1617.3 1187.2,1615.7 1196.2,1615 1205.6,1615.2" fill="none" stroke-width="3.0"/>
<polyline points="1444.6,1998.5 1440,2006.6 1434.8,2014 1429,2020.7 1422.7,2026.5 1415.8,2031.5 1408.5,2035.6 1400.6,2038.9 1392.4,2041.3 1383.7,2042.8 1374.7,2043.5 1365.3,2043.2 1355.6,2042 1345.7,2040 1335.6,2037.1 1325.3,2033.3 1314.8,2028.6 1304.3,2023.1 1293.8,2016.8 1283.2,2009.8 1272.7,2001.9 1262.2,1993.4 1251.9,1984.1 1241.8,1974.2 1231.9,1963.7 1222.2,1952.6 1212.8,1941 1203.8,1929 1195.1,1916.5 1186.8,1903.6 1179,1890.4 1171.6,1876.9 1164.7,1863.2 1158.4,1849.4 1152.6,1835.5 1147.4,1821.5 1142.8,1807.5 1138.8,1793.6 1135.4,1779.9 1132.7,1766.3 1130.7,1752.9 1129.3,1739.9 1128.6,1727.2 1128.5,1714.9 1129.2,1703.1 1130.5,1691.7 1132.4,1680.9 1135.1,1670.7 1138.4,1661.1 1142.3,1652.2 1146.8,1644 1152,1636.6 1157.7,1629.9 1164,1624 1170.8,1618.9 1178.1,1614.7 1185.9,1611.3 1194.1,1608.8 1202.8,1607.2 1211.8,1606.5 1221.1,1606.7" fill="none" stroke-width="3.2"/>
<line x1="1165" y1="2090" x2="1300" y2="2015" stroke-width="1.3"/>
<line x1="1175" y1="2097" x2="1310" y2="2022" stroke-width="1.3"/>
<ellipse cx="1211" cy="1957" rx="6" ry="4" fill="none" stroke-width="1.3"/>
</g>
<path d="M1247.3,2110.2 L1237.9,2114.2 L1228.1,2117.1 L1217.8,2119 L1207.2,2119.9 L1196.4,2119.6 L1185.2,2118.4 L1173.9,2116.1 L1162.5,2112.7 L1150.9,2108.4 L1139.4,2103 L1127.9,2096.7 L1116.4,2089.4 L1105.2,2081.2 L1094.1,2072.2 L1083.3,2062.3 L1072.8,2051.6 L1062.6,2040.3 L1052.9,2028.3 L1043.6,2015.6 L1034.8,2002.4 L1026.5,1988.8 L1018.9,1974.7 L1011.8,1960.2 L1005.5,1945.5 L999.8,1930.6 L994.8,1915.6 L990.5,1900.5 L987.1,1885.4 L984.4,1870.4 L982.4,1855.6 L981.3,1841 L981,1826.7 L981.5,1812.7 L982.8,1799.3 L984.9,1786.3 L987.8,1773.9 L991.5,1762.1 L995.9,1751 L1001,1740.7 L1006.9,1731.1 L1013.4,1722.4 L1020.6,1714.6 L1028.4,1707.7 L1036.8,1701.7 L1045.7,1696.8 L1055.1,1692.8 L1064.9,1689.9 L1075.2,1688 L1085.8,1687.1 L1096.6,1687.4 L1107.8,1688.6 L1119.1,1690.9 L1130.5,1694.3 L1142.1,1698.6 L1153.6,1704 L1165.1,1710.3 L1176.6,1717.6 L1187.8,1725.8 L1198.9,1734.8 L1209.7,1744.7 L1220.2,1755.4 L1230.4,1766.7 L1240.1,1778.7 L1249.4,1791.4 L1258.2,1804.6 L1266.5,1818.2 L1274.1,1832.3 L1281.2,1846.8 L1287.5,1861.5 L1293.2,1876.4 L1298.2,1891.4 L1302.5,1906.5 L1305.9,1921.6 L1308.6,1936.6 L1310.6,1951.4 L1311.7,1966 L1312,1980.3 L1311.5,1994.3 L1310.2,2007.7 L1308.1,2020.7 L1305.2,2033.1 L1301.5,2044.9 L1297.1,2056 L1292,2066.3 L1286.1,2075.9 L1279.6,2084.6 L1272.4,2092.4 L1264.6,2099.3 L1256.2,2105.3 L1247.3,2110.2 Z M1228.2,2089.3 L1235.9,2085 L1243.1,2079.9 L1249.8,2074 L1256,2067.2 L1261.6,2059.7 L1266.6,2051.5 L1271,2042.6 L1274.8,2033.1 L1278,2023 L1280.5,2012.3 L1282.3,2001.1 L1283.4,1989.6 L1283.8,1977.6 L1283.5,1965.3 L1282.6,1952.7 L1280.9,1940 L1278.6,1927.1 L1275.6,1914.1 L1272,1901.1 L1267.7,1888.2 L1262.8,1875.3 L1257.3,1862.7 L1251.3,1850.3 L1244.7,1838.2 L1237.6,1826.4 L1230,1815.1 L1222,1804.2 L1213.7,1793.9 L1204.9,1784.1 L1195.9,1774.9 L1186.6,1766.5 L1177,1758.7 L1167.3,1751.6 L1157.5,1745.4 L1147.6,1739.9 L1137.7,1735.3 L1127.8,1731.6 L1117.9,1728.7 L1108.2,1726.7 L1098.6,1725.6 L1089.3,1725.4 L1080.1,1726.2 L1071.3,1727.8 L1062.9,1730.3 L1054.8,1733.7 L1047.1,1738 L1039.9,1743.1 L1033.2,1749 L1027,1755.8 L1021.4,1763.3 L1016.4,1771.5 L1012,1780.4 L1008.2,1789.9 L1005,1800 L1002.5,1810.7 L1000.7,1821.9 L999.6,1833.4 L999.2,1845.4 L999.5,1857.7 L1000.4,1870.3 L1002.1,1883 L1004.4,1895.9 L1007.4,1908.9 L1011,1921.9 L1015.3,1934.8 L1020.2,1947.7 L1025.7,1960.3 L1031.7,1972.7 L1038.3,1984.8 L1045.4,1996.6 L1053,2007.9 L1061,2018.8 L1069.3,2029.1 L1078.1,2038.9 L1087.1,2048.1 L1096.4,2056.5 L1106,2064.3 L1115.7,2071.4 L1125.5,2077.6 L1135.4,2083.1 L1145.3,2087.7 L1155.2,2091.4 L1165.1,2094.3 L1174.8,2096.3 L1184.4,2097.4 L1193.7,2097.6 L1202.9,2096.8 L1211.7,2095.2 L1220.1,2092.7 L1228.2,2089.3 Z" fill="#fff" fill-rule="evenodd" stroke="none"/>
<ellipse cx="1146.5" cy="1903.5" rx="230" ry="146" fill="none" stroke-width="3.6" transform="rotate(64 1146.5 1903.5)"/>
<ellipse cx="1145.5" cy="1905" rx="224.2" ry="142.3" fill="none" stroke-width="1.2" transform="rotate(64 1145.5 1905)"/>
<ellipse cx="1144.5" cy="1906.5" rx="219.6" ry="139.4" fill="none" stroke-width="1.3" transform="rotate(64 1144.5 1906.5)"/>
<ellipse cx="1143.5" cy="1908.5" rx="213.9" ry="135.8" fill="none" stroke-width="2.2" transform="rotate(64 1143.5 1908.5)"/>
<ellipse cx="1142.5" cy="1910" rx="207" ry="131.4" fill="none" stroke-width="1.1" transform="rotate(64 1142.5 1910)"/>
<ellipse cx="1141.5" cy="1911.5" rx="197.8" ry="125.6" fill="none" stroke-width="1.6" transform="rotate(64 1141.5 1911.5)"/>
<rect x="1080.2" y="2052.1" width="9" height="9" fill="#fff" stroke-width="1.3" transform="rotate(64.0 1084.7 2056.6)"/>
<rect x="985" y="1856.7" width="9" height="9" fill="#fff" stroke-width="1.3" transform="rotate(64.0 989.5 1861.2)"/>
<rect x="1092.9" y="1697.7" width="9" height="9" fill="#fff" stroke-width="1.3" transform="rotate(64.0 1097.4 1702.2)"/>
<rect x="1223.9" y="1778.4" width="9" height="9" fill="#fff" stroke-width="1.3" transform="rotate(64.0 1228.4 1782.9)"/>
<rect x="1289.1" y="1912" width="9" height="9" fill="#fff" stroke-width="1.3" transform="rotate(64.0 1293.6 1916.5)"/>
<rect x="1284.5" y="2040.9" width="9" height="9" fill="#fff" stroke-width="1.3" transform="rotate(64.0 1289 2045.4)"/>
<rect x="1187.1" y="2106.3" width="9" height="9" fill="#fff" stroke-width="1.3" transform="rotate(64.0 1191.6 2110.8)"/>
<line x1="1016.3" y1="1658.4" x2="1024.8" y2="1668.5" stroke-width="4.2"/>
<line x1="1012.5" y1="1660" x2="1019" y2="1655.7" stroke-width="3.8"/>
<line x1="1090.9" y1="1605.6" x2="1099.4" y2="1615.2" stroke-width="4.2"/>
<line x1="1088.2" y1="1607.2" x2="1094.1" y2="1603" stroke-width="3.8"/>
<line x1="1126.6" y1="1597" x2="1135.2" y2="1607.2" stroke-width="4.2"/>
<line x1="1122.9" y1="1599.2" x2="1129.3" y2="1594.9" stroke-width="3.8"/>
<ellipse cx="1534.9" cy="1984.8" rx="4.2" ry="4.2" fill="none" stroke-width="2.6"/>
<line x1="1530.9" y1="1985.3" x2="1524.9" y2="1985.8" stroke-width="4"/>
<ellipse cx="1503.6" cy="2037.5" rx="4.2" ry="4.2" fill="none" stroke-width="2.6"/>
<line x1="1499.6" y1="2038" x2="1493.6" y2="2038.5" stroke-width="4"/>
<ellipse cx="1427.4" cy="2047.3" rx="4.2" ry="4.2" fill="none" stroke-width="2.6"/>
<line x1="1423.4" y1="2047.8" x2="1417.4" y2="2048.3" stroke-width="4"/>
<pattern id="mesh" width="4.6" height="4.6" patternUnits="userSpaceOnUse" patternTransform="rotate(30)"><rect width="4.6" height="4.6" fill="#0c0c0c"/><circle cx="2.3" cy="2.3" r="1.6" fill="#fff"/></pattern>
<ellipse cx="1615.5" cy="1637.5" rx="163" ry="94.5" fill="url(#mesh)" stroke-width="4" transform="rotate(59.4 1615.5 1637.5)"/>
<ellipse cx="1615.5" cy="1637.5" rx="155.7" ry="87.4" fill="none" stroke-width="5" transform="rotate(59.4 1615.5 1637.5)" stroke="#fff"/>
<ellipse cx="1615.5" cy="1637.5" rx="158.4" ry="90.2" fill="none" stroke-width="1.4" transform="rotate(59.4 1615.5 1637.5)"/>
<g stroke-linecap="butt">
<line x1="1585.5" y1="1566.7" x2="1559.8" y2="1608.5" stroke-width="10" stroke="#fff"/>
<line x1="1559.8" y1="1608.5" x2="1589.8" y2="1679.3" stroke-width="10" stroke="#fff"/>
<line x1="1589.8" y1="1679.3" x2="1645.5" y2="1708.3" stroke-width="10" stroke="#fff"/>
<line x1="1645.5" y1="1708.3" x2="1671.2" y2="1666.5" stroke-width="10" stroke="#fff"/>
<line x1="1671.2" y1="1666.5" x2="1641.2" y2="1595.7" stroke-width="10" stroke="#fff"/>
<line x1="1641.2" y1="1595.7" x2="1585.5" y2="1566.7" stroke-width="10" stroke="#fff"/>
<line x1="1603" y1="1608" x2="1555.5" y2="1495.9" stroke-width="11" stroke="#fff"/>
<line x1="1592.3" y1="1625.4" x2="1504.1" y2="1579.4" stroke-width="11" stroke="#fff"/>
<line x1="1604.8" y1="1654.9" x2="1564.1" y2="1721" stroke-width="11" stroke="#fff"/>
<line x1="1628" y1="1667" x2="1675.5" y2="1779.1" stroke-width="11" stroke="#fff"/>
<line x1="1638.7" y1="1649.6" x2="1726.9" y2="1695.6" stroke-width="11" stroke="#fff"/>
<line x1="1626.2" y1="1620.1" x2="1666.9" y2="1554" stroke-width="11" stroke="#fff"/>
<line x1="1603" y1="1608" x2="1554.8" y2="1494.4" stroke-width="2.2"/>
<line x1="1592.3" y1="1625.4" x2="1502.9" y2="1578.8" stroke-width="2.2"/>
<line x1="1604.8" y1="1654.9" x2="1563.6" y2="1721.9" stroke-width="2.2"/>
<line x1="1628" y1="1667" x2="1676.2" y2="1780.6" stroke-width="2.2"/>
<line x1="1638.7" y1="1649.6" x2="1728.1" y2="1696.2" stroke-width="2.2"/>
<line x1="1626.2" y1="1620.1" x2="1667.4" y2="1553.1" stroke-width="2.2"/>
<line x1="1585.5" y1="1566.7" x2="1559.8" y2="1608.5" stroke-width="2"/>
<line x1="1559.8" y1="1608.5" x2="1589.8" y2="1679.3" stroke-width="2"/>
<line x1="1589.8" y1="1679.3" x2="1645.5" y2="1708.3" stroke-width="2"/>
<line x1="1645.5" y1="1708.3" x2="1671.2" y2="1666.5" stroke-width="2"/>
<line x1="1671.2" y1="1666.5" x2="1641.2" y2="1595.7" stroke-width="2"/>
<line x1="1641.2" y1="1595.7" x2="1585.5" y2="1566.7" stroke-width="2"/>
</g>
<ellipse cx="1612.5" cy="1638.5" rx="30" ry="19" fill="#fff" stroke-width="2.5" transform="rotate(59.4 1612.5 1638.5)"/>
<ellipse cx="1612.5" cy="1638.5" rx="26" ry="16" fill="none" stroke-width="1.3" transform="rotate(59.4 1612.5 1638.5)"/>
<ellipse cx="1608.5" cy="1620.5" rx="1.8" ry="1.8" fill="#000" stroke-width="1"/>
<ellipse cx="1608.5" cy="1642.5" rx="1.8" ry="1.8" fill="#000" stroke-width="1"/>
<ellipse cx="1627.5" cy="1645.5" rx="1.8" ry="1.8" fill="#000" stroke-width="1"/>
<ellipse cx="1745" cy="1564" rx="17" ry="12.5" fill="#fff" stroke-width="2.2" transform="rotate(62 1745 1564)"/>
<ellipse cx="1744" cy="1565" rx="12" ry="8.5" fill="none" stroke-width="2" transform="rotate(62 1744 1565)"/>
<ellipse cx="1744" cy="1565" rx="6" ry="4.5" fill="#000" stroke-width="2.5" transform="rotate(62 1744 1565)"/>
<ellipse cx="1744" cy="1565" rx="2" ry="1.5" fill="#fff" stroke-width="1" transform="rotate(62 1744 1565)"/>
<polygon points="1758,1551 1765,1548 1768,1555 1762,1560" fill="none" stroke-width="2.2"/>
<line x1="1733" y1="1555" x2="1740" y2="1549" stroke-width="2"/>
<line x1="1750" y1="1580" x2="1757" y2="1574" stroke-width="2"/>
<ellipse cx="1506" cy="1679" rx="3.5" ry="3" fill="#000" stroke-width="1"/>
<line x1="1507" y1="1678" x2="1514" y2="1674" stroke-width="2.6"/>
<ellipse cx="1504" cy="1705" rx="3.5" ry="3" fill="#000" stroke-width="1"/>
<line x1="1505" y1="1704" x2="1512" y2="1700" stroke-width="2.6"/>
<ellipse cx="1524.7" cy="1703" rx="3.5" ry="3" fill="#000" stroke-width="1"/>
<line x1="1525.7" y1="1702" x2="1532.7" y2="1698" stroke-width="2.6"/>
<polyline points="682.4,1914.7 685.6,1913.4 766.4,1859.3 774.3,1858.6 784.7,1849.5 792.5,1847.6 848.5,1819.5 874,1861.9 810.8,1905.6 723.4,1949.9 682.4,1922.5 682.4,1914.7" fill="none" stroke-width="1.8"/>
<line x1="685.6" y1="1913.4" x2="723.4" y2="1949.9" stroke-width="2.6"/>
<line x1="774.3" y1="1858.6" x2="811.4" y2="1904.3" stroke-width="1.5"/>
<line x1="778.5" y1="1856" x2="813.5" y2="1900.5" stroke-width="1.3"/>
<line x1="723.4" y1="1947.5" x2="874" y2="1860" stroke-width="2.6"/>
<polyline points="784.7,1849.5 791,1862 795,1871 790,1873" fill="none" stroke-width="1.5"/>
<ellipse cx="792" cy="1870" rx="2.2" ry="2.2" fill="#000" stroke-width="1"/>
<polyline points="945.9,2058.1 966.3,2045 1042.6,2014.5 1097.1,1972.2 1125.8,1955.2 1136.7,1968.8 1080.8,2022.6 1065.8,2038.6 1050.8,2044 974.5,2062.5 945.9,2064.2 945.9,2058.1" fill="#fff" stroke-width="2.6"/>
<line x1="966.3" y1="2045" x2="969" y2="2061" stroke-width="1.6"/>
<line x1="984" y1="2043" x2="987" y2="2050" stroke-width="1.6"/>
<line x1="986" y1="2049" x2="1043" y2="2016" stroke-width="1.3"/>
<line x1="1043" y1="2016" x2="1084" y2="1996" stroke-width="1.3"/>
<line x1="1042.6" y1="2014.5" x2="1055" y2="2035" stroke-width="1.3"/>
<line x1="987" y1="2050" x2="1049" y2="2037" stroke-width="1.3"/>
<line x1="1055" y1="2020" x2="1102" y2="2015" stroke-width="1.3"/>
<line x1="1070" y1="2006" x2="1105" y2="1998" stroke-width="1.3"/>
<line x1="1105" y1="1998" x2="1102" y2="1990" stroke-width="1.3"/>
<line x1="1107" y1="1973" x2="1129" y2="1965" stroke-width="1.3"/>
<ellipse cx="1097" cy="1986" rx="2.5" ry="3" fill="#000" stroke-width="1"/>
<line x1="1023" y1="2036" x2="1025" y2="2045" stroke-width="2.5"/>
<polyline points="840.3,2283.9 845,2231.8 909,2177.3 994.3,2148.8 1013.3,2193.8 930.3,2234 852,2286.3 840.3,2283.9" fill="none" stroke-width="1.8"/>
<line x1="909" y1="2177.3" x2="930.3" y2="2234" stroke-width="1.5"/>
<line x1="845" y1="2231.8" x2="852" y2="2233" stroke-width="1.3"/>
<line x1="852" y1="2233" x2="852" y2="2286" stroke-width="1.3"/>
<line x1="859" y1="2240" x2="861" y2="2252" stroke-width="1.6"/>
<line x1="969" y1="2176" x2="970" y2="2190" stroke-width="1.6"/>
<line x1="1000" y1="2152" x2="1015" y2="2190" stroke-width="1.2"/>
<line x1="641.5" y1="1716.5" x2="641.8" y2="1734.5" stroke-width="4.6"/>
<ellipse cx="641.5" cy="1717.5" rx="4.6" ry="3.8" fill="#000" stroke-width="1"/>
<ellipse cx="641.5" cy="1716" rx="1.2" ry="0.9" fill="#fff" stroke-width="0.1" stroke="none"/>
<line x1="685" y1="1691.6" x2="685.3" y2="1709.6" stroke-width="4.6"/>
<ellipse cx="685" cy="1692.6" rx="4.6" ry="3.8" fill="#000" stroke-width="1"/>
<ellipse cx="685" cy="1691.1" rx="1.2" ry="0.9" fill="#fff" stroke-width="0.1" stroke="none"/>
<line x1="728.6" y1="1666.8" x2="728.9" y2="1684.8" stroke-width="4.6"/>
<ellipse cx="728.6" cy="1667.8" rx="4.6" ry="3.8" fill="#000" stroke-width="1"/>
<ellipse cx="728.6" cy="1666.3" rx="1.2" ry="0.9" fill="#fff" stroke-width="0.1" stroke="none"/>
<line x1="1508" y1="2295" x2="1508" y2="2310" stroke-width="4.2"/>
<ellipse cx="1508" cy="2296" rx="4.2" ry="3.6" fill="#000" stroke-width="1"/>
<ellipse cx="1508" cy="2295" rx="1.1" ry="0.9" fill="#fff" stroke-width="0.1" stroke="none"/>
<line x1="1549.5" y1="2270" x2="1549.5" y2="2285" stroke-width="4.2"/>
<ellipse cx="1549.5" cy="2271" rx="4.2" ry="3.6" fill="#000" stroke-width="1"/>
<ellipse cx="1549.5" cy="2270" rx="1.1" ry="0.9" fill="#fff" stroke-width="0.1" stroke="none"/>
<line x1="1594" y1="2245" x2="1594" y2="2260" stroke-width="4.2"/>
<ellipse cx="1594" cy="2246" rx="4.2" ry="3.6" fill="#000" stroke-width="1"/>
<ellipse cx="1594" cy="2245" rx="1.1" ry="0.9" fill="#fff" stroke-width="0.1" stroke="none"/>
<ellipse cx="944.5" cy="2253" rx="3" ry="2.5" fill="#000" stroke-width="1"/>
<line x1="944.5" y1="2241" x2="944.5" y2="2253" stroke-width="2.6"/>
<ellipse cx="1011" cy="2224.8" rx="3" ry="2.5" fill="#000" stroke-width="1"/>
<line x1="1011" y1="2212.8" x2="1011" y2="2224.8" stroke-width="2.6"/>
<line x1="904" y1="2305" x2="910" y2="2312" stroke-width="2.6"/>
<polyline points="540.2,2494.9 546.2,2495.9 552.1,2496.5 558,2496.8 563.7,2496.8 569.3,2496.4 574.9,2495.8 580.3,2494.9 585.5,2493.6 590.7,2492.1 595.6,2490.2 600.5,2488.1 605.2,2485.6 609.7,2482.8 614,2479.8 618.2,2476.5 622.1,2472.8 625.9,2468.9 629.5,2464.8 632.9,2460.3 636.1,2455.7 639.1,2450.7 641.8,2445.5 644.4,2440.1 646.7,2434.4 648.8,2428.6 650.7,2422.5 652.3,2416.2 653.7,2409.7 654.9,2403 655.9,2396.2 656.6,2389.1 657,2381.9 657.2,2374.6 657.2,2367.2 657,2359.6 656.5,2351.9 655.7,2344.1 654.8,2336.2 653.5,2328.2 652.1,2320.1 650.4,2312 648.5,2303.9 646.4,2295.7 644,2287.5 641.4,2279.2 638.7,2271 635.6,2262.8 632.4,2254.6 629,2246.5 625.4,2238.4 621.6,2230.3 617.6,2222.3 613.4,2214.4 609,2206.6 604.5,2199 599.8,2191.4 594.9,2183.9 589.9,2176.6 584.8,2169.4 579.5,2162.4 574.1,2155.6 568.5,2148.9 562.9,2142.5 557.1,2136.2 551.3,2130.1 545.3,2124.2 539.3,2118.6 533.2,2113.2 527.1,2108 520.9,2103.1 514.6,2098.4 508.3,2094 502,2089.9 495.7,2086 489.4,2082.4 483,2079.1 476.7,2076.1 470.4,2073.4 464.1,2070.9 457.9,2068.8 451.7,2067 445.6,2065.4 439.5,2064.2 433.5,2063.3 427.6,2062.7 421.8,2062.4 416,2062.4 410.4,2062.8 404.9,2063.4 399.5,2064.4 394.2,2065.6 389.1,2067.2 384.1,2069.1 379.3,2071.3 374.6,2073.7 370.1,2076.5 365.8,2079.6 361.6,2082.9 357.7,2086.5 353.9,2090.4 350.3,2094.6 346.9,2099.1 343.8,2103.8 340.8,2108.7 338,2113.9 335.5,2119.4 333.2,2125 331.1,2130.9 329.2,2137 327.6,2143.3 326.2,2149.8 325,2156.5 324.1,2163.4 323.4,2170.4 323,2177.6 322.8,2184.9 322.8,2192.4 323.1,2200 323.6,2207.7 324.3,2215.5 350,2330 380.6,2454.5 384,2463 389,2464 392.4,2457 392.4,2421.3 395,2414 399.5,2414.2 470,2463 522.7,2490 540,2494" fill="none" stroke-width="3"/>
<polyline points="410,2066.2 415.5,2065.8 421.1,2065.7 426.9,2065.9 432.7,2066.4 438.6,2067.2 444.5,2068.3 450.6,2069.7 456.7,2071.4 462.8,2073.5 469,2075.8 475.2,2078.4 481.4,2081.3 487.7,2084.5 493.9,2087.9 500.2,2091.7 506.4,2095.7 512.6,2100 518.7,2104.5 524.9,2109.3 531,2114.3 537,2119.6 542.9,2125.1 548.8,2130.8 554.6,2136.7 560.3,2142.9 565.9,2149.2 571.4,2155.7 576.7,2162.4 582,2169.3 587.1,2176.3 592.1,2183.5 596.9,2190.8 601.6,2198.2 606.1,2205.8 610.4,2213.5 614.6,2221.2 618.6,2229.1 622.4,2237 626,2244.9 629.5,2253 632.7,2261 635.7,2269.1 638.5,2277.2 641.1,2285.3 643.5,2293.4 645.7,2301.5 647.6,2309.6 649.3,2317.6 650.8,2325.5 652,2333.4 653,2341.2 653.8,2349 654.4,2356.6 654.7,2364.1 654.8,2371.5 654.6,2378.7 654.2,2385.8 653.6,2392.8 652.7,2399.6 651.6,2406.2" fill="none" stroke-width="1.1"/>
<polyline points="1804.1,2084.9 1806.1,2083.9 1808.2,2083.2 1810.4,2082.7 1812.7,2082.5 1815.1,2082.5 1817.6,2082.8 1820.1,2083.4 1822.7,2084.2 1825.3,2085.2 1827.9,2086.5 1830.5,2088 1833.1,2089.8 1835.7,2091.7 1838.1,2093.9 1840.6,2096.2 1842.9,2098.7 1845.1,2101.4 1847.3,2104.2 1849.3,2107.1 1851.1,2110.2 1852.8,2113.3 1854.4,2116.5 1855.8,2119.7 1857,2123 1858,2126.3 1858.8,2129.5 1859.5,2132.7 1859.9,2135.9 1860.1,2139 1860.1,2142 1859.9,2144.9 1859.6,2147.7 1859,2150.4 1858.2,2152.8 1857.2,2155.1 1856,2157.2 1854.7,2159.1 1853.2,2160.8 1851.5,2162.3 1849.7,2163.5" fill="none" stroke-width="1.8"/>
<line x1="1712.1" y1="2137.4" x2="1804.1" y2="2084.9" stroke-width="1.6"/>
<line x1="1757.7" y1="2216" x2="1849.7" y2="2163.5" stroke-width="1.6"/>
<ellipse cx="1734.9" cy="2176.7" rx="45.4" ry="28" fill="#fff" stroke-width="1.8" transform="rotate(59.9 1734.9 2176.7)"/>
<polygon points="1784,2178 1800,2170 1802.5,2181 1786,2189" fill="none" stroke-width="1.4"/>
<ellipse cx="1774" cy="2112" rx="1.7" ry="1.7" fill="#000" stroke-width="1"/>
<ellipse cx="1769" cy="2168" rx="1.7" ry="1.7" fill="#000" stroke-width="1"/>
<ellipse cx="1760" cy="2198" rx="1.7" ry="1.7" fill="#000" stroke-width="1"/>
<ellipse cx="1730" cy="2206" rx="1.7" ry="1.7" fill="#000" stroke-width="1"/>
<ellipse cx="1745" cy="2215" rx="1.7" ry="1.7" fill="#000" stroke-width="1"/>
<polyline points="1864.8,2224.3 1877,2222 1908.3,2214 1922.8,2222 1922.8,2236.7 1902,2251.2 1879.3,2265.7 1869,2263.7 1866.8,2236.7 1864.8,2224.3" fill="none" stroke-width="1.8"/>
<polyline points="1877,2222 1880,2262" fill="none" stroke-width="1.4"/>
<polyline points="1886,2230 1912,2219 1918,2226 1892,2238 1886,2230" fill="none" stroke-width="1.4"/>
<polyline points="1890,2238 1893,2250 1916,2239" fill="none" stroke-width="1.3"/>
<line x1="1866" y1="2237" x2="1880" y2="2232" stroke-width="1.3"/>
<path d="M2149.5,1121 C2144.6,1122.1 2129.5,1124.2 2120,1127.4 C2110.5,1130.6 2100.4,1134.7 2092.7,1140 C2085,1145.3 2078.6,1151.6 2073.7,1159 C2068.8,1166.4 2065.3,1174.8 2063.2,1184.3 C2061.1,1193.8 2060.8,1205.4 2061,1215.9 C2061.2,1226.4 2062.1,1235.2 2064.2,1247.5 C2066.3,1259.8 2069.6,1276.3 2073.7,1289.6 C2077.8,1302.9 2082.5,1315.2 2088.5,1327.5 C2094.5,1339.8 2101.8,1352 2109.5,1363.3 C2117.2,1374.5 2125.3,1385.5 2134.8,1395 C2144.3,1404.5 2157.6,1414.6 2166.4,1420.2 C2175.2,1425.8 2180.5,1425.4 2187.5,1428.6 C2194.5,1431.8 2202.5,1435.7 2208.5,1439.2 C2214.5,1442.7 2220.3,1446.6 2223.3,1449.7 C2226.3,1452.8 2225.9,1453.9 2226.4,1458.1 C2226.9,1462.3 2225.7,1470.4 2226.4,1475 C2227.1,1479.6 2229.4,1483.4 2230.6,1485.5 C2231.8,1487.6 2233.3,1487.2 2233.8,1487.6" fill="none" stroke-width="2.2"/>
<path d="M2122.5,1128.9 C2117.9,1131 2102.9,1136.2 2095.2,1141.5 C2087.5,1146.8 2081.1,1153.1 2076.2,1160.5 C2071.3,1167.9 2067.8,1176.3 2065.7,1185.8 C2063.6,1195.3 2063.3,1206.9 2063.5,1217.4 C2063.7,1227.9 2064.6,1236.7 2066.7,1249 C2068.8,1261.3 2072.1,1277.8 2076.2,1291.1 C2080.2,1304.4 2085,1316.7 2091,1329 C2097,1341.3 2104.3,1353.5 2112,1364.8 C2119.7,1376 2127.8,1387 2137.3,1396.5 C2146.8,1406 2160.1,1416.1 2168.9,1421.7 C2177.7,1427.3 2186.5,1428.7 2190,1430.1" fill="none" stroke-width="1.2"/>
<path d="M2149.5,1121 C2154.1,1121.4 2167.2,1120.7 2177,1123.2 C2186.8,1125.7 2198,1130.2 2208.5,1135.8 C2219,1141.4 2229.6,1148.1 2240.1,1156.9 C2250.6,1165.7 2262.9,1178 2271.7,1188.5 C2280.5,1199 2288.6,1213 2292.8,1220 C2297,1227 2294.6,1224.3 2297,1230.6 C2299.4,1236.9 2304.3,1248.2 2307.5,1258 C2310.7,1267.8 2313.5,1277.3 2316,1289.6 C2318.5,1301.9 2320.2,1314.1 2322.3,1331.7 C2324.4,1349.3 2326.5,1373.9 2328.6,1395 C2330.7,1416.1 2333.2,1439.5 2334.9,1458.1 C2336.7,1476.7 2338.4,1496.4 2339.1,1506.6 C2339.8,1516.8 2339.1,1517.1 2339.1,1519.2" fill="none" stroke-width="2.0"/>
<path d="M2174,1125.2 C2179.2,1127.3 2195,1132.2 2205.5,1137.8 C2216,1143.4 2226.6,1150.1 2237.1,1158.9 C2247.6,1167.7 2259.9,1180 2268.7,1190.5 C2277.5,1201 2285.6,1215 2289.8,1222 C2294,1229 2291.6,1226.3 2294,1232.6 C2296.4,1238.9 2301.3,1250.2 2304.5,1260 C2307.7,1269.8 2310.5,1279.3 2313,1291.6 C2315.5,1303.9 2317.2,1316.1 2319.3,1333.7 C2321.4,1351.3 2323.5,1375.9 2325.6,1397 C2327.7,1418.1 2330.8,1449.6 2331.9,1460.1" fill="none" stroke-width="1.2"/>
<polyline points="2339.1,1519.2 2311.8,1534 2309.6,1498.1 2290.7,1483.4 2263.3,1472.9 2233.8,1487.6" fill="none" stroke-width="1.8"/>
<path d="M2124.3,1138 C2119,1144 2099,1160.7 2092.7,1173.7 C2086.4,1186.7 2086.7,1201.9 2086.3,1215.9 C2086,1230 2086.7,1244 2090.6,1258 C2094.5,1272 2103.9,1287.7 2109.5,1300 C2115.1,1312.3 2117.6,1321.2 2124.3,1331.7 C2131,1342.2 2139,1353.5 2149.5,1363.3 C2160,1373.1 2174.8,1383.3 2187.5,1390.7 C2200.2,1398.1 2214.9,1402.3 2225.4,1407.6 C2235.9,1412.9 2244.7,1417.4 2250.7,1422.3 C2256.7,1427.2 2259.1,1431 2261.2,1437 C2263.3,1443 2263,1452.1 2263.3,1458.1 C2263.7,1464.1 2263.3,1470.4 2263.3,1472.9" fill="none" stroke-width="1.3"/>
<path d="M2124.3,1138 C2131.3,1136.9 2152.4,1130.2 2166.4,1131.6 C2180.4,1133 2194.4,1138.9 2208.5,1146.3 C2222.6,1153.7 2240.2,1166.7 2250.7,1175.8 C2261.2,1184.9 2265.4,1191.2 2271.7,1201 C2278,1210.8 2284,1223.5 2288.6,1234.8 C2293.2,1246 2296.6,1255.8 2299.1,1268.5 C2301.6,1281.2 2302.2,1296.7 2303.3,1310.7 C2304.4,1324.8 2304.8,1334.6 2305.4,1352.8 C2306,1371 2306.2,1395.5 2307,1420 C2307.8,1444.5 2309.5,1486.7 2310,1500" fill="none" stroke-width="2.4"/>
<line x1="2207" y1="1420" x2="2193" y2="1437" stroke-width="1.2"/>
<line x1="2248" y1="1455" x2="2233" y2="1470" stroke-width="1.2"/>
<line x1="2226" y1="1458" x2="2263" y2="1440" stroke-width="1.2"/>
<ellipse cx="2207.4" cy="1272.6" rx="108.7" ry="66.6" fill="none" stroke-width="2.2" transform="rotate(63 2207.4 1272.6)"/>
<ellipse cx="2206.4" cy="1273.1" rx="103.3" ry="63.3" fill="none" stroke-width="2.0" transform="rotate(63 2206.4 1273.1)"/>
<ellipse cx="2205.4" cy="1273.6" rx="97.8" ry="59.9" fill="none" stroke-width="1.6" transform="rotate(63 2205.4 1273.6)"/>
<ellipse cx="2204.4" cy="1274.1" rx="92.4" ry="57.3" fill="none" stroke-width="1.4" transform="rotate(63 2204.4 1274.1)"/>
<ellipse cx="2199.4" cy="1275.6" rx="76.1" ry="48" fill="none" stroke-width="1.3" transform="rotate(63 2199.4 1275.6)"/>
<ellipse cx="2195.4" cy="1277.6" rx="59.8" ry="38.6" fill="none" stroke-width="1.3" transform="rotate(63 2195.4 1277.6)"/>
<ellipse cx="2194.4" cy="1278.6" rx="48.9" ry="32" fill="none" stroke-width="1.2" transform="rotate(63 2194.4 1278.6)"/>
<ellipse cx="2193" cy="1280" rx="17" ry="12" fill="none" stroke-width="2.6" transform="rotate(60 2193 1280)"/>
<ellipse cx="2191" cy="1281" rx="11" ry="7.5" fill="none" stroke-width="2.2" transform="rotate(60 2191 1281)"/>
<ellipse cx="2167" cy="1266" rx="3.5" ry="2.5" fill="none" stroke-width="1.5" transform="rotate(60 2167 1266)"/>
<polyline points="2218,1283 2222,1300 2219,1312" fill="none" stroke-width="2.5"/>
<polyline points="2196,1316 2205,1318 2213,1315" fill="none" stroke-width="2.5"/>
<ellipse cx="2143" cy="1148" rx="19" ry="13" fill="none" stroke-width="1.8" transform="rotate(62 2143 1148)"/>
<ellipse cx="2142" cy="1147" rx="14" ry="9.5" fill="none" stroke-width="1.4" transform="rotate(62 2142 1147)"/>
<ellipse cx="2143" cy="1148" rx="1.8" ry="1.8" fill="#000" stroke-width="1"/>
<ellipse cx="2143" cy="1307" rx="19" ry="13" fill="none" stroke-width="1.8" transform="rotate(62 2143 1307)"/>
<ellipse cx="2142" cy="1306" rx="14" ry="9.5" fill="none" stroke-width="1.4" transform="rotate(62 2142 1306)"/>
<ellipse cx="2143" cy="1307" rx="1.8" ry="1.8" fill="#000" stroke-width="1"/>
<polyline points="2285,1275 2300,1265 2307,1281 2292,1290 2285,1275" fill="none" stroke-width="1.8"/>
<ellipse cx="2300" cy="1293" rx="2.2" ry="2.2" fill="#000" stroke-width="1"/>
<ellipse cx="2306" cy="1301" rx="2.2" ry="2.2" fill="#000" stroke-width="1"/>
<ellipse cx="2311" cy="1330" rx="2.2" ry="2.2" fill="#000" stroke-width="1"/>
<ellipse cx="2310" cy="1312" rx="5.5" ry="8" fill="none" stroke-width="1.5"/>
<path d="M2264,1420 L2263,1390 Q2265,1372 2278,1372 Q2292,1376 2300,1420 L2303,1430" fill="none" stroke-width="1.8"/>
<path d="M2273,1420 L2273,1395 Q2275,1385 2282,1386 Q2290,1390 2294,1420" fill="none" stroke-width="1.4"/>
<ellipse cx="2283" cy="1390" rx="1.8" ry="1.8" fill="#000" stroke-width="1"/>
<polyline points="2270,1378 2296,1370 2300,1376" fill="none" stroke-width="1.5"/>
<polyline points="2266,1468 2287,1478 2290,1472 2270,1462 2266,1468" fill="#000" stroke-width="2.2"/>
<path d="M2305.4,1541 L2310,1551 L2312,1575 L2318.7,1577 L2320,1605 L2318,1607 L2321,1640 L2324.4,1681.4 L2320.6,1683 L2288.3,1666 L2286.4,1645 L2256,1628 L2254,1649 L2237,1639.7 Q2224,1620 2222,1598 Q2285,1595 2305.4,1541 Z" fill="none" stroke-width="1.8"/>
<line x1="2241" y1="1617" x2="2307.3" y2="1601.8" stroke-width="6"/>
<line x1="2242" y1="1617" x2="2306" y2="1602.5" stroke-width="1.6" stroke="#fff"/>
<polyline points="2241,1617 2238,1626 2240,1632 2248,1630" fill="none" stroke-width="2.5"/>
<polygon points="2297,1567 2304,1566 2304,1577" fill="#000" stroke-width="2"/>
<polygon points="2304,1634 2311,1633 2311,1644" fill="#000" stroke-width="2"/>
<line x1="2300" y1="1655" x2="2302" y2="1665" stroke-width="2.5"/>
<line x1="2308" y1="1664" x2="2310" y2="1668" stroke-width="2.5"/>
<line x1="2227" y1="1607" x2="2229" y2="1618" stroke-width="2"/>
<line x1="2229" y1="1622" x2="2230" y2="1630" stroke-width="2"/>
<polygon points="2192.2,1813.8 2248,1723.2 2320.4,1769.9 2266.4,1857.8" fill="none" stroke-width="2.0"/>
<line x1="2194" y1="1820" x2="2268" y2="1863" stroke-width="1.5"/>
<path d="M2320.4,1769.9 C2323.3,1764.9 2334.2,1745.2 2338,1740 C2341.8,1734.8 2342.1,1736.3 2343.3,1738.8 C2344.5,1741.3 2345.6,1748.1 2345,1755 C2344.4,1761.9 2342.1,1771.4 2340,1780 C2337.9,1788.6 2335.6,1793.2 2332.3,1806.5 C2329,1819.8 2324,1839.2 2320,1860 C2316,1880.8 2311,1917.7 2308.5,1931 C2306,1944.3 2307.9,1937.8 2304.8,1940 C2301.7,1942.2 2293.7,1943.3 2290,1944 C2286.3,1944.7 2284.1,1943.9 2282.9,1943.9" fill="none" stroke-width="1.8"/>
<line x1="2266.4" y1="1857.8" x2="2275.5" y2="1859.6" stroke-width="1.5"/>
<line x1="2275.5" y1="1859.6" x2="2281" y2="1940" stroke-width="1.6"/>
<line x1="2271" y1="1859" x2="2278" y2="1940" stroke-width="1.2"/>
<polyline points="2198.6,1821.2 2211.4,1905.4 2213,1912 2211,1905" fill="none" stroke-width="1.6"/>
<polyline points="2195,1819 2203,1900 2206,1912" fill="none" stroke-width="1.4"/>
<polyline points="2211.4,1902 2257.2,1920 2264,1916 2272,1860" fill="none" stroke-width="1.6"/>
<path d="M2212,1887 C2215,1883.3 2223.3,1869.5 2230,1865 C2236.7,1860.5 2246,1860.5 2252,1860 C2258,1859.5 2263.7,1861.7 2266,1862" fill="none" stroke-width="1.5"/>
<path d="M2264,1916 Q2272,1905 2270,1880" fill="none" stroke-width="1.3"/>
<path d="M2253,1921 Q2256,1935 2272,1938 L2281,1940" fill="none" stroke-width="1.4"/>
<path d="M2242.6,1702 C2242.8,1700 2240.9,1692.1 2244,1690 C2247.1,1687.9 2257.2,1688.1 2260.9,1689.3 C2264.6,1690.5 2264.8,1694.9 2266,1697 C2267.2,1699.1 2266.9,1701.2 2268.2,1702 C2269.5,1702.8 2270.6,1702.4 2273.7,1702 C2276.8,1701.6 2282.1,1698.4 2286.5,1699.4 C2290.9,1700.4 2295.1,1705.4 2300,1708 C2304.9,1710.6 2310.7,1710.8 2315.8,1715 C2320.9,1719.2 2326.2,1730.2 2330.5,1733.3 C2334.8,1736.3 2339.7,1733.3 2341.5,1733.3" fill="none" stroke-width="1.6"/>
<line x1="2242.6" y1="1702" x2="2248" y2="1723.2" stroke-width="1.5"/>
<line x1="2245.3" y1="1755.2" x2="2265.5" y2="1830.3" stroke-width="3.6"/>
<line x1="2217.8" y1="1802.9" x2="2293" y2="1781.8" stroke-width="3.6"/>
<line x1="2297.5" y1="1848.6" x2="2304" y2="1905.4" stroke-width="3.6"/>
<line x1="2285.6" y1="1918.2" x2="2312" y2="1840" stroke-width="3.6"/>
<line x1="2255" y1="1701" x2="2252" y2="1721" stroke-width="3"/>
<line x1="2264" y1="1705" x2="2261" y2="1722" stroke-width="3"/>
<line x1="2286" y1="1710" x2="2284" y2="1727" stroke-width="3"/>
<line x1="2301" y1="1719" x2="2299" y2="1734" stroke-width="3"/>
<line x1="2316" y1="1726" x2="2314" y2="1740" stroke-width="3"/>
<line x1="2258" y1="1733" x2="2254" y2="1749" stroke-width="3"/>
<line x1="2274" y1="1734" x2="2264" y2="1760" stroke-width="3"/>
<line x1="2289" y1="1740" x2="2280" y2="1768" stroke-width="3"/>
<line x1="2310" y1="1755" x2="2304" y2="1772" stroke-width="3"/>
<line x1="2343.3" y1="1755" x2="2315.8" y2="1898" stroke-width="4" stroke-dasharray="5 4"/>
<line x1="2336" y1="1745" x2="2326" y2="1780" stroke-width="2.5"/>
<line x1="2330" y1="1747" x2="2322" y2="1778" stroke-width="2.5"/>
<ellipse cx="2293" cy="1925" rx="2.5" ry="3.5" fill="none" stroke-width="1.4"/>
<ellipse cx="2302" cy="1932" rx="2" ry="2" fill="none" stroke-width="1.2"/>
</g>
<g stroke="#000" fill="none">
<polyline points="607,662.4 682.7,662.4 717.5,723" fill="none" stroke-width="1.6"/>
<polygon points="717.5,723 699.5,701 707.6,696.4" fill="#000" stroke="none"/>
<polyline points="2058,711.5 2134,711.5 2150.6,830.6" fill="none" stroke-width="1.6"/>
<polygon points="2150.6,830.6 2142.1,803.5 2151.3,802.2" fill="#000" stroke="none"/>
<polyline points="213.7,1016 289.6,1016 296.7,1089.6" fill="none" stroke-width="1.6"/>
<polygon points="296.7,1089.6 289.4,1062.2 298.6,1061.3" fill="#000" stroke="none"/>
<polyline points="545.5,1140 620,1140 631,1083" fill="none" stroke-width="1.6"/>
<polygon points="631,1083 630.3,1111.4 621.1,1109.6" fill="#000" stroke="none"/>
<polyline points="1965.7,986 2040,986" fill="none" stroke-width="1.6"/>
<line x1="2040" y1="986" x2="2053.6" y2="937.2" stroke-width="1.6"/>
<polygon points="2053.6,937.2 2050.6,965.4 2041.6,962.9" fill="#000" stroke="none"/>
<line x1="2040" y1="986" x2="2089.5" y2="965.6" stroke-width="1.6"/>
<polygon points="2089.5,965.6 2065.4,980.6 2061.8,972" fill="#000" stroke="none"/>
<polyline points="2273.6,1013.8 2347.9,1013.8 2355,1176.7" fill="none" stroke-width="1.6"/>
<polygon points="2355,1176.7 2349.1,1148.9 2358.4,1148.5" fill="#000" stroke="none"/>
<polyline points="2228,1083.9 2303.9,1083.9 2317.6,1186.5" fill="none" stroke-width="1.6"/>
<polygon points="2317.6,1186.5 2309.3,1159.4 2318.5,1158.1" fill="#000" stroke="none"/>
<polyline points="1951,1129.5 2025.3,1129.5 2060,1194.7" fill="none" stroke-width="1.6"/>
<polygon points="2060,1194.7 2042.7,1172.2 2051,1167.8" fill="#000" stroke="none"/>
<polyline points="518,1319.7 591.8,1319.7 625,1270" fill="none" stroke-width="1.6"/>
<polygon points="625,1270 613.3,1295.9 605.6,1290.7" fill="#000" stroke="none"/>
<polyline points="1012.7,1313.5 1087.4,1313.5 1110.2,1374.4" fill="none" stroke-width="1.6"/>
<polygon points="1110.2,1374.4 1096,1349.8 1104.7,1346.5" fill="#000" stroke="none"/>
<polyline points="1968.6,1284.7 2043.3,1284.7 2069.5,1328.6" fill="none" stroke-width="1.6"/>
<polygon points="2069.5,1328.6 2051.2,1306.9 2059.1,1302.2" fill="#000" stroke="none"/>
<polyline points="1618,1439.6 1691.9,1439.6 1728,1546.2" fill="none" stroke-width="1.6"/>
<polygon points="1728,1546.2 1714.6,1521.2 1723.4,1518.2" fill="#000" stroke="none"/>
<polyline points="584.3,1474.4 657.3,1474.4 686.3,1503.8" fill="none" stroke-width="1.6"/>
<polygon points="686.3,1503.8 663.3,1487.1 669.9,1480.6" fill="#000" stroke="none"/>
<polyline points="890.4,1504.7 965,1504.7 1010.7,1542.4" fill="none" stroke-width="1.6"/>
<polygon points="1010.7,1542.4 986.1,1528.2 992.1,1521" fill="#000" stroke="none"/>
<polyline points="1400.3,1479 1475,1479 1504,1527.5" fill="none" stroke-width="1.6"/>
<polygon points="1504,1527.5 1485.6,1505.9 1493.6,1501.1" fill="#000" stroke="none"/>
<polyline points="2161.3,1519.9 2236.2,1519.9 2260,1594.2" fill="none" stroke-width="1.6"/>
<polygon points="2260,1594.2 2247,1569 2255.9,1566.1" fill="#000" stroke="none"/>
<polyline points="579.3,1627.4 654,1627.4" fill="none" stroke-width="1.6"/>
<line x1="654" y1="1627.4" x2="641.5" y2="1714.5" stroke-width="1.6"/>
<polygon points="641.5,1714.5 640.9,1686.1 650.1,1687.4" fill="#000" stroke="none"/>
<line x1="654" y1="1627.4" x2="683" y2="1689.6" stroke-width="1.6"/>
<polygon points="683,1689.6 667,1666.2 675.4,1662.3" fill="#000" stroke="none"/>
<line x1="654" y1="1627.4" x2="726.6" y2="1664.8" stroke-width="1.6"/>
<polygon points="726.6,1664.8 699.6,1656.1 703.8,1647.8" fill="#000" stroke="none"/>
<polyline points="1634.6,1836.5 1562,1836.5 1506,1708" fill="none" stroke-width="1.6"/>
<polygon points="1506,1708 1521.4,1731.8 1512.9,1735.5" fill="#000" stroke="none"/>
<polyline points="666.4,1829.8 742,1829.8 766,1859.7" fill="none" stroke-width="1.6"/>
<polygon points="766,1859.7 744.8,1840.8 752.1,1835" fill="#000" stroke="none"/>
<polyline points="909,1968.7 983.9,1968.7 1025,2018.5" fill="none" stroke-width="1.6"/>
<polygon points="1025,2018.5 1003.6,1999.9 1010.8,1993.9" fill="#000" stroke="none"/>
<polyline points="1981,2016.9 1906.2,2016.9 1898,1952.6" fill="none" stroke-width="1.6"/>
<polygon points="1898,1952.6 1906.2,1979.8 1896.9,1981" fill="#000" stroke="none"/>
<polyline points="2310,2021.7 2237,2021.7 2234.3,1908" fill="none" stroke-width="1.6"/>
<polygon points="2234.3,1908 2239.6,1935.9 2230.3,1936.1" fill="#000" stroke="none"/>
<polyline points="795.3,2086.3 871,2086.3 909,2172.5" fill="none" stroke-width="1.6"/>
<polygon points="909,2172.5 893.5,2148.8 902,2145" fill="#000" stroke="none"/>
<polyline points="1947.7,2097.7 1875,2097.7 1856.5,2141.3" fill="none" stroke-width="1.6"/>
<polygon points="1856.5,2141.3 1863.2,2113.7 1871.7,2117.3" fill="#000" stroke="none"/>
<polyline points="2012,2182.8 1939.4,2182.8 1922.8,2234.6" fill="none" stroke-width="1.6"/>
<polygon points="1922.8,2234.6 1926.9,2206.5 1935.8,2209.4" fill="#000" stroke="none"/>
<polyline points="999,2276.8 928,2276.8 906.6,2312.3" fill="none" stroke-width="1.6"/>
<polygon points="906.6,2312.3 917.1,2285.9 925,2290.7" fill="#000" stroke="none"/>
<polyline points="1688.5,2342.5 1616,2342.5" fill="none" stroke-width="1.6"/>
<line x1="1616" y1="2342.5" x2="1508" y2="2311.4" stroke-width="1.6"/>
<polygon points="1508,2311.4 1536.2,2314.7 1533.6,2323.6" fill="#000" stroke="none"/>
<line x1="1616" y1="2342.5" x2="1549.5" y2="2286.5" stroke-width="1.6"/>
<polygon points="1549.5,2286.5 1573.9,2301 1567.9,2308.1" fill="#000" stroke="none"/>
<line x1="1616" y1="2342.5" x2="1595.2" y2="2265.7" stroke-width="1.6"/>
<polygon points="1595.2,2265.7 1607,2291.5 1598,2293.9" fill="#000" stroke="none"/>
<polyline points="605.7,2584.8 534.6,2584.8 520.4,2492.4" fill="none" stroke-width="1.6"/>
<polygon points="520.4,2492.4 529.2,2519.4 520.1,2520.8" fill="#000" stroke="none"/>
</g>
<g fill="#000">
<text transform="translate(512.1 679.3) scale(1.14 1)" font-size="48.4" stroke="#000" stroke-width="1.1">4</text>
<text transform="translate(543.4 679.3) scale(1.14 1)" font-size="48.4" stroke="#000" stroke-width="1.1">2</text>
<text transform="translate(574.2 679.3) scale(1.14 1)" font-size="48.4" stroke="#000" stroke-width="1.1">3</text>
<text transform="translate(1964.2 728.3) scale(1.14 1)" font-size="48.7" stroke="#000" stroke-width="1.1">4</text>
<text transform="translate(1995.5 728.3) scale(1.14 1)" font-size="48.7" stroke="#000" stroke-width="1.1">2</text>
<text transform="translate(2025.7 728.3) scale(1.14 1)" font-size="48.7" stroke="#000" stroke-width="1.1">2</text>
<path d="M146,1000.3 L151.9,1000.3 L151.9,1034 L146,1034 L146,1008.9 L142,1010.9 L142,1004.3 Z" fill="#000" stroke="none"/>
<path d="M159.9,1000.3 L165.8,1000.3 L165.8,1034 L159.9,1034 L159.9,1008.9 L155.9,1010.9 L155.9,1004.3 Z" fill="#000" stroke="none"/>
<path d="M173.8,1000.3 L179.7,1000.3 L179.7,1034 L173.8,1034 L173.8,1008.9 L169.8,1010.9 L169.8,1004.3 Z" fill="#000" stroke="none"/>
<text transform="translate(181.5 1033.3) scale(1.14 1)" font-size="47" stroke="#000" stroke-width="1.1">6</text>
<text transform="translate(450.1 1157.3) scale(1.14 1)" font-size="45.6" stroke="#000" stroke-width="1.1">4</text>
<text transform="translate(482 1157.3) scale(1.14 1)" font-size="45.6" stroke="#000" stroke-width="1.1">3</text>
<text transform="translate(512.8 1157.3) scale(1.14 1)" font-size="45.6" stroke="#000" stroke-width="1.1">8</text>
<path d="M1896.4,970.1 L1902.3,970.1 L1902.3,1004 L1896.4,1004 L1896.4,978.7 L1892.4,980.8 L1892.4,974.2 Z" fill="#000" stroke="none"/>
<path d="M1910.3,970.1 L1916.2,970.1 L1916.2,1004 L1910.3,1004 L1910.3,978.7 L1906.3,980.8 L1906.3,974.2 Z" fill="#000" stroke="none"/>
<text transform="translate(1918.6 1003.3) scale(1.14 1)" font-size="47.3" stroke="#000" stroke-width="1.1">5</text>
<path d="M1954.8,970.1 L1960.7,970.1 L1960.7,1004 L1954.8,1004 L1954.8,978.7 L1950.8,980.8 L1950.8,974.2 Z" fill="#000" stroke="none"/>
<text transform="translate(2176.9 1031) scale(1.14 1)" font-size="45.9" stroke="#000" stroke-width="1.1">5</text>
<text transform="translate(2209.1 1031) scale(1.14 1)" font-size="45.9" stroke="#000" stroke-width="1.1">4</text>
<text transform="translate(2241.1 1031) scale(1.14 1)" font-size="45.9" stroke="#000" stroke-width="1.1">0</text>
<text transform="translate(2135.2 1099.3) scale(1.14 1)" font-size="44.7" stroke="#000" stroke-width="1.1">5</text>
<text transform="translate(2166.3 1099.3) scale(1.14 1)" font-size="44.7" stroke="#000" stroke-width="1.1">3</text>
<text transform="translate(2196.7 1099.3) scale(1.14 1)" font-size="44.7" stroke="#000" stroke-width="1.1">7</text>
<text transform="translate(1857 1145.1) scale(1.14 1)" font-size="43.9" stroke="#000" stroke-width="1.1">6</text>
<text transform="translate(1888 1145.1) scale(1.14 1)" font-size="43.9" stroke="#000" stroke-width="1.1">2</text>
<text transform="translate(1919.2 1145.1) scale(1.14 1)" font-size="43.9" stroke="#000" stroke-width="1.1">5</text>
<path d="M448.5,1304.3 L454.4,1304.3 L454.4,1338 L448.5,1338 L448.5,1312.9 L444.5,1314.9 L444.5,1308.3 Z" fill="#000" stroke="none"/>
<path d="M462.4,1304.3 L468.3,1304.3 L468.3,1338 L462.4,1338 L462.4,1312.9 L458.4,1314.9 L458.4,1308.3 Z" fill="#000" stroke="none"/>
<path d="M476.3,1304.3 L482.2,1304.3 L482.2,1338 L476.3,1338 L476.3,1312.9 L472.3,1314.9 L472.3,1308.3 Z" fill="#000" stroke="none"/>
<text transform="translate(484 1337.3) scale(1.14 1)" font-size="47" stroke="#000" stroke-width="1.1">6</text>
<text transform="translate(918.7 1330.3) scale(1.14 1)" font-size="47.1" stroke="#000" stroke-width="1.1">4</text>
<text transform="translate(949.2 1330.3) scale(1.14 1)" font-size="47.1" stroke="#000" stroke-width="1.1">0</text>
<text transform="translate(979.1 1330.3) scale(1.14 1)" font-size="47.1" stroke="#000" stroke-width="1.1">5</text>
<path d="M1883.9,1268.8 L1889.7,1268.8 L1889.7,1302 L1883.9,1302 L1883.9,1277.3 L1880,1279.3 L1880,1272.8 Z" fill="#000" stroke="none"/>
<path d="M1898,1268.8 L1903.8,1268.8 L1903.8,1302 L1898,1302 L1898,1277.3 L1894.1,1279.3 L1894.1,1272.8 Z" fill="#000" stroke="none"/>
<text transform="translate(1906.1 1301.3) scale(1.14 1)" font-size="46.3" stroke="#000" stroke-width="1.1">2</text>
<text transform="translate(1935.9 1301.3) scale(1.14 1)" font-size="46.3" stroke="#000" stroke-width="1.1">8</text>
<text transform="translate(1524.1 1454.3) scale(1.14 1)" font-size="43" stroke="#000" stroke-width="1.1">5</text>
<text transform="translate(1555.1 1454.3) scale(1.14 1)" font-size="43" stroke="#000" stroke-width="1.1">3</text>
<text transform="translate(1585.9 1454.3) scale(1.14 1)" font-size="43" stroke="#000" stroke-width="1.1">0</text>
<text transform="translate(503.1 1490.7) scale(1.14 1)" font-size="47" stroke="#000" stroke-width="1.1">4</text>
<text transform="translate(535.9 1490.7) scale(1.14 1)" font-size="47" stroke="#000" stroke-width="1.1">4</text>
<path d="M573.3,1457.7 L579.2,1457.7 L579.2,1491.4 L573.3,1491.4 L573.3,1466.3 L569.3,1468.3 L569.3,1461.7 Z" fill="#000" stroke="none"/>
<text transform="translate(797.5 1521) scale(1.14 1)" font-size="45.9" stroke="#000" stroke-width="1.1">5</text>
<text transform="translate(827.6 1521) scale(1.14 1)" font-size="45.9" stroke="#000" stroke-width="1.1">0</text>
<text transform="translate(857.8 1521) scale(1.14 1)" font-size="45.9" stroke="#000" stroke-width="1.1">0</text>
<text transform="translate(1306.7 1495.7) scale(1.14 1)" font-size="45.9" stroke="#000" stroke-width="1.1">5</text>
<text transform="translate(1337.9 1495.7) scale(1.14 1)" font-size="45.9" stroke="#000" stroke-width="1.1">2</text>
<text transform="translate(1368.7 1495.7) scale(1.14 1)" font-size="45.9" stroke="#000" stroke-width="1.1">6</text>
<text transform="translate(2068.2 1536.3) scale(1.14 1)" font-size="45.3" stroke="#000" stroke-width="1.1">6</text>
<text transform="translate(2098.9 1536.3) scale(1.14 1)" font-size="45.3" stroke="#000" stroke-width="1.1">2</text>
<text transform="translate(2129.6 1536.3) scale(1.14 1)" font-size="45.3" stroke="#000" stroke-width="1.1">8</text>
<path d="M495.3,1611.1 L501,1611.1 L501,1644 L495.3,1644 L495.3,1619.5 L491.4,1621.5 L491.4,1615 Z" fill="#000" stroke="none"/>
<path d="M508.9,1611.1 L514.7,1611.1 L514.7,1644 L508.9,1644 L508.9,1619.5 L505,1621.5 L505,1615 Z" fill="#000" stroke="none"/>
<text transform="translate(517.1 1643.3) scale(1.14 1)" font-size="45.9" stroke="#000" stroke-width="1.1">5</text>
<text transform="translate(546.9 1643.3) scale(1.14 1)" font-size="45.9" stroke="#000" stroke-width="1.1">5</text>
<path d="M1641.3,1821.1 L1646.8,1821.1 L1646.8,1853 L1641.3,1853 L1641.3,1829.2 L1637.5,1831.1 L1637.5,1824.9 Z" fill="#000" stroke="none"/>
<path d="M1655.4,1821.1 L1660.9,1821.1 L1660.9,1853 L1655.4,1853 L1655.4,1829.2 L1651.6,1831.1 L1651.6,1824.9 Z" fill="#000" stroke="none"/>
<text transform="translate(1664.2 1852.3) scale(1.14 1)" font-size="44.4" stroke="#000" stroke-width="1.1">5</text>
<text transform="translate(1693.4 1852.3) scale(1.14 1)" font-size="44.4" stroke="#000" stroke-width="1.1">7</text>
<text transform="translate(590.3 1845.7) scale(1.14 1)" font-size="45.9" stroke="#000" stroke-width="1.1">5</text>
<path d="M626.1,1813.5 L631.8,1813.5 L631.8,1846.4 L626.1,1846.4 L626.1,1821.9 L622.2,1823.9 L622.2,1817.4 Z" fill="#000" stroke="none"/>
<text transform="translate(635 1845.7) scale(1.14 1)" font-size="45.9" stroke="#000" stroke-width="1.1">3</text>
<text transform="translate(834 1984.6) scale(1.14 1)" font-size="44.6" stroke="#000" stroke-width="1.1">5</text>
<path d="M868.9,1953.3 L874.5,1953.3 L874.5,1985.3 L868.9,1985.3 L868.9,1961.5 L865.2,1963.4 L865.2,1957.1 Z" fill="#000" stroke="none"/>
<text transform="translate(877.7 1984.6) scale(1.14 1)" font-size="44.6" stroke="#000" stroke-width="1.1">3</text>
<text transform="translate(1982.4 2032.8) scale(1.14 1)" font-size="45.9" stroke="#000" stroke-width="1.1">4</text>
<text transform="translate(2013.2 2032.8) scale(1.14 1)" font-size="45.9" stroke="#000" stroke-width="1.1">0</text>
<text transform="translate(2043.6 2032.8) scale(1.14 1)" font-size="45.9" stroke="#000" stroke-width="1.1">5</text>
<text transform="translate(2310 2037.3) scale(1.14 1)" font-size="44.1" stroke="#000" stroke-width="1.1">6</text>
<text transform="translate(2341.2 2037.3) scale(1.14 1)" font-size="44.1" stroke="#000" stroke-width="1.1">2</text>
<text transform="translate(2372 2037.3) scale(1.14 1)" font-size="44.1" stroke="#000" stroke-width="1.1">7</text>
<text transform="translate(720.3 2103.1) scale(1.14 1)" font-size="45.9" stroke="#000" stroke-width="1.1">5</text>
<path d="M755.9,2070.9 L761.7,2070.9 L761.7,2103.8 L755.9,2103.8 L755.9,2079.3 L752,2081.3 L752,2074.8 Z" fill="#000" stroke="none"/>
<text transform="translate(764.7 2103.1) scale(1.14 1)" font-size="45.9" stroke="#000" stroke-width="1.1">3</text>
<text transform="translate(1947.9 2113.6) scale(1.14 1)" font-size="42.9" stroke="#000" stroke-width="1.1">6</text>
<path d="M1983.5,2083.5 L1988.9,2083.5 L1988.9,2114.3 L1983.5,2114.3 L1983.5,2091.4 L1979.8,2093.2 L1979.8,2087.2 Z" fill="#000" stroke="none"/>
<text transform="translate(1993.4 2113.6) scale(1.14 1)" font-size="42.9" stroke="#000" stroke-width="1.1">6</text>
<text transform="translate(2012.1 2198.7) scale(1.14 1)" font-size="42.9" stroke="#000" stroke-width="1.1">6</text>
<text transform="translate(2043.1 2198.7) scale(1.14 1)" font-size="42.9" stroke="#000" stroke-width="1.1">2</text>
<text transform="translate(2073.7 2198.7) scale(1.14 1)" font-size="42.9" stroke="#000" stroke-width="1.1">2</text>
<path d="M1004.4,2260.5 L1010.1,2260.5 L1010.1,2293.4 L1004.4,2293.4 L1004.4,2268.9 L1000.5,2270.9 L1000.5,2264.4 Z" fill="#000" stroke="none"/>
<path d="M1019,2260.5 L1024.8,2260.5 L1024.8,2293.4 L1019,2293.4 L1019,2268.9 L1015.1,2270.9 L1015.1,2264.4 Z" fill="#000" stroke="none"/>
<text transform="translate(1027.7 2292.7) scale(1.14 1)" font-size="45.9" stroke="#000" stroke-width="1.1">2</text>
<text transform="translate(1057.4 2292.7) scale(1.14 1)" font-size="45.9" stroke="#000" stroke-width="1.1">7</text>
<path d="M1694.3,2327.3 L1699.9,2327.3 L1699.9,2359 L1694.3,2359 L1694.3,2335.4 L1690.6,2337.3 L1690.6,2331.1 Z" fill="#000" stroke="none"/>
<path d="M1708.5,2327.3 L1714,2327.3 L1714,2359 L1708.5,2359 L1708.5,2335.4 L1704.7,2337.3 L1704.7,2331.1 Z" fill="#000" stroke="none"/>
<text transform="translate(1717.4 2358.3) scale(1.14 1)" font-size="44.1" stroke="#000" stroke-width="1.1">5</text>
<text transform="translate(1747.1 2358.3) scale(1.14 1)" font-size="44.1" stroke="#000" stroke-width="1.1">5</text>
<text transform="translate(606.5 2600.7) scale(1.14 1)" font-size="45.9" stroke="#000" stroke-width="1.1">5</text>
<text transform="translate(637.8 2600.7) scale(1.14 1)" font-size="45.9" stroke="#000" stroke-width="1.1">0</text>
<text transform="translate(668.7 2600.7) scale(1.14 1)" font-size="45.9" stroke="#000" stroke-width="1.1">7</text>
</g>
<g stroke="none" fill="#000">
<polygon points="74,72 2482,71 2482,78 74,79" fill="#000" stroke="none"/>
<polygon points="71,3222 2477,3222 2477,3229 71,3229" fill="#000" stroke="none"/>
<polygon points="74,72 81,72 78,3229 71,3229" fill="#000" stroke="none"/>
<polygon points="2475,71 2482,71 2477,3229 2470,3229" fill="#000" stroke="none"/>
<polygon points="1238,0 1260,0 1260,26 1275,26 1255,73 1243,73 1223,26 1238,26" fill="#000" stroke="none"/>
<polygon points="1282,3300 1304,3300 1304,3274 1318,3274 1299,3228 1287,3228 1267,3274 1282,3274" fill="#000" stroke="none"/>
<polygon points="0,1632 27,1632 27,1617 73,1637 73,1649 27,1668 27,1654 0,1654" fill="#000" stroke="none"/>
<polygon points="2550,1723 2523,1723 2523,1708 2477,1728 2477,1741 2523,1760 2523,1745 2550,1745" fill="#000" stroke="none"/>
</g>
<g stroke="#000" fill="none">
<line x1="77" y1="2981.5" x2="861" y2="2981.5" stroke-width="2.2"/>
<line x1="77" y1="3033.5" x2="861" y2="3033.5" stroke-width="2"/>
<line x1="77" y1="3080.3" x2="861" y2="3080.3" stroke-width="2"/>
<line x1="77" y1="3128.3" x2="861" y2="3128.3" stroke-width="2"/>
<line x1="77" y1="3177.5" x2="861" y2="3177.5" stroke-width="2"/>
<line x1="376.5" y1="2981" x2="376.5" y2="3223" stroke-width="2"/>
<line x1="860.3" y1="2981" x2="860.3" y2="3223" stroke-width="2.2"/>
</g>
<text transform="translate(89.3 3021.3) scale(0.9829 1)" font-size="34.1" font-weight="bold" stroke="#000" stroke-width="1.1">MODEL</text>
<text transform="translate(395.1 3017.2) scale(1.0485 1)" font-size="31.7" font-weight="normal" stroke="#000" stroke-width="1.5">CLMPG70204DBB00</text>
<text transform="translate(86.3 3068.8) scale(0.9824 1)" font-size="34" font-weight="bold" stroke="#000" stroke-width="1.1">PUB. NUM.</text>
<text transform="translate(394 3066) scale(1.0480 1)" font-size="31.9" font-weight="normal" stroke="#000" stroke-width="1.5">PC-CELA-004-0222</text>
<text transform="translate(87.2 3116) scale(0.9854 1)" font-size="33.7" font-weight="bold" stroke="#000" stroke-width="1.1">REVISION</text>
<text transform="translate(395.3 3115.9) scale(0.9783 1)" font-size="33.1" font-weight="normal" stroke="#000" stroke-width="1.5">0</text>
<text transform="translate(86.6 3164) scale(1.0017 1)" font-size="33.3" font-weight="bold" stroke="#000" stroke-width="1.1">STATUS</text>
<text transform="translate(394.5 3163.8) scale(1.0171 1)" font-size="32.7" font-weight="normal" stroke="#000" stroke-width="1.5">In Work</text>
<text transform="translate(86.2 3212.8) scale(0.9908 1)" font-size="33.4" font-weight="bold" stroke="#000" stroke-width="1.1">CHANGE NOTICE</text>
<text transform="translate(394.9 3212.7) scale(1.0100 1)" font-size="32.9" font-weight="normal" stroke="#000" stroke-width="1.5">CN-CC-61346</text>
<path d="M1782.3,3047.2 L1782.3,3132.2 L2384.8,3132.2 A36,36 0 0 0 2420.8,3096.2 L2420.8,3013.2 A4,4 0 0 0 2416.8,3009.2 L1820.3,3009.2 A38,38 0 0 0 1782.3,3047.2 Z" fill="#000" stroke="none"/>
<text transform="translate(1811.6 3103) scale(1.0869 1)" font-size="85.6" font-weight="normal" fill="#fff" stroke="#fff" stroke-width="1.2">servicio</text>
<text transform="translate(2141.2 3102.4) scale(1.1931 1)" font-size="81.4" font-weight="bold" fill="#fff" stroke="#fff" stroke-width="2.0">mabe</text>
</svg></body></html>
